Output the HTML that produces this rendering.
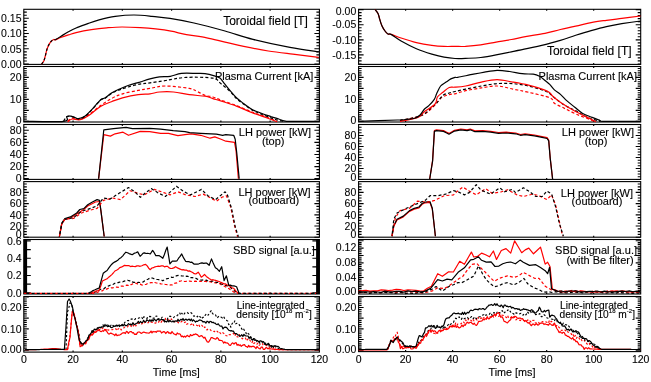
<!DOCTYPE html>
<html><head><meta charset="utf-8"><style>html,body{margin:0;padding:0;background:#fff;width:651px;height:382px;overflow:hidden}svg{display:block;will-change:transform;transform:translateZ(0)} text{stroke:#000;stroke-width:0.12px} text.t{stroke-width:0.08px}</style></head>
<body><svg width="651" height="382" viewBox="0 0 651 382">
<rect width="651" height="382" fill="#fff"/>
<path d="M23.80 64.00h3.00M319.40 64.00h-3.00M23.80 60.95h3.00M319.40 60.95h-3.00M23.80 57.90h3.00M319.40 57.90h-3.00M23.80 54.85h3.00M319.40 54.85h-3.00M23.80 51.80h3.00M319.40 51.80h-3.00M23.80 48.75h3.00M319.40 48.75h-3.00M23.80 45.70h3.00M319.40 45.70h-3.00M23.80 42.65h3.00M319.40 42.65h-3.00M23.80 39.60h3.00M319.40 39.60h-3.00M23.80 36.55h3.00M319.40 36.55h-3.00M23.80 33.50h3.00M319.40 33.50h-3.00M23.80 30.45h3.00M319.40 30.45h-3.00M23.80 27.40h3.00M319.40 27.40h-3.00M23.80 24.35h3.00M319.40 24.35h-3.00M23.80 21.30h3.00M319.40 21.30h-3.00M23.80 18.25h3.00M319.40 18.25h-3.00M23.80 15.20h3.00M319.40 15.20h-3.00M23.80 12.15h3.00M319.40 12.15h-3.00M23.80 64.00h5.00M319.40 64.00h-5.00M23.80 48.75h5.00M319.40 48.75h-5.00M23.80 33.50h5.00M319.40 33.50h-5.00M23.80 18.25h5.00M319.40 18.25h-5.00M73.07 9.30v1.5M73.07 64.40v-1.5M122.33 9.30v1.5M122.33 64.40v-1.5M171.60 9.30v1.5M171.60 64.40v-1.5M220.87 9.30v1.5M220.87 64.40v-1.5M270.13 9.30v1.5M270.13 64.40v-1.5" stroke="#000" stroke-width="1.15" fill="none"/>
<rect x="23.80" y="9.30" width="295.60" height="55.10" fill="none" stroke="#000" stroke-width="1.1"/>
<text class="t" x="21.50" y="67.75" text-anchor="end" font-family="Liberation Sans" font-size="10.5">0.00</text>
<text class="t" x="21.50" y="52.50" text-anchor="end" font-family="Liberation Sans" font-size="10.5">0.05</text>
<text class="t" x="21.50" y="37.25" text-anchor="end" font-family="Liberation Sans" font-size="10.5">0.10</text>
<text class="t" x="21.50" y="22.00" text-anchor="end" font-family="Liberation Sans" font-size="10.5">0.15</text>
<path d="M23.80 121.30h3.00M319.40 121.30h-3.00M23.80 119.10h3.00M319.40 119.10h-3.00M23.80 116.90h3.00M319.40 116.90h-3.00M23.80 114.70h3.00M319.40 114.70h-3.00M23.80 112.50h3.00M319.40 112.50h-3.00M23.80 110.30h3.00M319.40 110.30h-3.00M23.80 108.10h3.00M319.40 108.10h-3.00M23.80 105.90h3.00M319.40 105.90h-3.00M23.80 103.70h3.00M319.40 103.70h-3.00M23.80 101.50h3.00M319.40 101.50h-3.00M23.80 99.30h3.00M319.40 99.30h-3.00M23.80 97.10h3.00M319.40 97.10h-3.00M23.80 94.90h3.00M319.40 94.90h-3.00M23.80 92.70h3.00M319.40 92.70h-3.00M23.80 90.50h3.00M319.40 90.50h-3.00M23.80 88.30h3.00M319.40 88.30h-3.00M23.80 86.10h3.00M319.40 86.10h-3.00M23.80 83.90h3.00M319.40 83.90h-3.00M23.80 81.70h3.00M319.40 81.70h-3.00M23.80 79.50h3.00M319.40 79.50h-3.00M23.80 77.30h3.00M319.40 77.30h-3.00M23.80 75.10h3.00M319.40 75.10h-3.00M23.80 72.90h3.00M319.40 72.90h-3.00M23.80 70.70h3.00M319.40 70.70h-3.00M23.80 68.50h3.00M319.40 68.50h-3.00M23.80 121.30h5.00M319.40 121.30h-5.00M23.80 110.30h5.00M319.40 110.30h-5.00M23.80 99.30h5.00M319.40 99.30h-5.00M23.80 88.30h5.00M319.40 88.30h-5.00M23.80 77.30h5.00M319.40 77.30h-5.00M73.07 66.50v1.5M73.07 122.00v-1.5M122.33 66.50v1.5M122.33 122.00v-1.5M171.60 66.50v1.5M171.60 122.00v-1.5M220.87 66.50v1.5M220.87 122.00v-1.5M270.13 66.50v1.5M270.13 122.00v-1.5" stroke="#000" stroke-width="1.15" fill="none"/>
<rect x="23.80" y="66.50" width="295.60" height="55.50" fill="none" stroke="#000" stroke-width="1.1"/>
<text class="t" x="21.50" y="123.55" text-anchor="end" font-family="Liberation Sans" font-size="10.5">0</text>
<text class="t" x="21.50" y="103.05" text-anchor="end" font-family="Liberation Sans" font-size="10.5">10</text>
<text class="t" x="21.50" y="81.05" text-anchor="end" font-family="Liberation Sans" font-size="10.5">20</text>
<path d="M23.80 178.65h3.00M319.40 178.65h-3.00M23.80 175.62h3.00M319.40 175.62h-3.00M23.80 172.60h3.00M319.40 172.60h-3.00M23.80 169.58h3.00M319.40 169.58h-3.00M23.80 166.55h3.00M319.40 166.55h-3.00M23.80 163.53h3.00M319.40 163.53h-3.00M23.80 160.50h3.00M319.40 160.50h-3.00M23.80 157.47h3.00M319.40 157.47h-3.00M23.80 154.45h3.00M319.40 154.45h-3.00M23.80 151.43h3.00M319.40 151.43h-3.00M23.80 148.40h3.00M319.40 148.40h-3.00M23.80 145.38h3.00M319.40 145.38h-3.00M23.80 142.35h3.00M319.40 142.35h-3.00M23.80 139.33h3.00M319.40 139.33h-3.00M23.80 136.30h3.00M319.40 136.30h-3.00M23.80 133.28h3.00M319.40 133.28h-3.00M23.80 130.25h3.00M319.40 130.25h-3.00M23.80 127.23h3.00M319.40 127.23h-3.00M23.80 178.65h5.00M319.40 178.65h-5.00M23.80 166.55h5.00M319.40 166.55h-5.00M23.80 154.45h5.00M319.40 154.45h-5.00M23.80 142.35h5.00M319.40 142.35h-5.00M23.80 130.25h5.00M319.40 130.25h-5.00M73.07 124.50v1.5M73.07 179.40v-1.5M122.33 124.50v1.5M122.33 179.40v-1.5M171.60 124.50v1.5M171.60 179.40v-1.5M220.87 124.50v1.5M220.87 179.40v-1.5M270.13 124.50v1.5M270.13 179.40v-1.5" stroke="#000" stroke-width="1.15" fill="none"/>
<rect x="23.80" y="124.50" width="295.60" height="54.90" fill="none" stroke="#000" stroke-width="1.1"/>
<text class="t" x="21.50" y="181.60" text-anchor="end" font-family="Liberation Sans" font-size="10.5">0</text>
<text class="t" x="21.50" y="170.30" text-anchor="end" font-family="Liberation Sans" font-size="10.5">20</text>
<text class="t" x="21.50" y="158.20" text-anchor="end" font-family="Liberation Sans" font-size="10.5">40</text>
<text class="t" x="21.50" y="146.10" text-anchor="end" font-family="Liberation Sans" font-size="10.5">60</text>
<text class="t" x="21.50" y="134.00" text-anchor="end" font-family="Liberation Sans" font-size="10.5">80</text>
<path d="M23.80 237.20h3.00M319.40 237.20h-3.00M23.80 234.40h3.00M319.40 234.40h-3.00M23.80 231.60h3.00M319.40 231.60h-3.00M23.80 228.80h3.00M319.40 228.80h-3.00M23.80 226.00h3.00M319.40 226.00h-3.00M23.80 223.20h3.00M319.40 223.20h-3.00M23.80 220.40h3.00M319.40 220.40h-3.00M23.80 217.60h3.00M319.40 217.60h-3.00M23.80 214.80h3.00M319.40 214.80h-3.00M23.80 212.00h3.00M319.40 212.00h-3.00M23.80 209.20h3.00M319.40 209.20h-3.00M23.80 206.40h3.00M319.40 206.40h-3.00M23.80 203.60h3.00M319.40 203.60h-3.00M23.80 200.80h3.00M319.40 200.80h-3.00M23.80 198.00h3.00M319.40 198.00h-3.00M23.80 195.20h3.00M319.40 195.20h-3.00M23.80 192.40h3.00M319.40 192.40h-3.00M23.80 189.60h3.00M319.40 189.60h-3.00M23.80 186.80h3.00M319.40 186.80h-3.00M23.80 184.00h3.00M319.40 184.00h-3.00M23.80 237.20h5.00M319.40 237.20h-5.00M23.80 226.00h5.00M319.40 226.00h-5.00M23.80 214.80h5.00M319.40 214.80h-5.00M23.80 203.60h5.00M319.40 203.60h-5.00M23.80 192.40h5.00M319.40 192.40h-5.00M73.07 181.60v1.5M73.07 237.20v-1.5M122.33 181.60v1.5M122.33 237.20v-1.5M171.60 181.60v1.5M171.60 237.20v-1.5M220.87 181.60v1.5M220.87 237.20v-1.5M270.13 181.60v1.5M270.13 237.20v-1.5" stroke="#000" stroke-width="1.15" fill="none"/>
<rect x="23.80" y="181.60" width="295.60" height="55.60" fill="none" stroke="#000" stroke-width="1.1"/>
<text class="t" x="21.50" y="238.45" text-anchor="end" font-family="Liberation Sans" font-size="10.5">0</text>
<text class="t" x="21.50" y="229.75" text-anchor="end" font-family="Liberation Sans" font-size="10.5">20</text>
<text class="t" x="21.50" y="218.55" text-anchor="end" font-family="Liberation Sans" font-size="10.5">40</text>
<text class="t" x="21.50" y="207.35" text-anchor="end" font-family="Liberation Sans" font-size="10.5">60</text>
<text class="t" x="21.50" y="196.15" text-anchor="end" font-family="Liberation Sans" font-size="10.5">80</text>
<rect x="23.80" y="239.50" width="3.30" height="54.50" fill="#000"/>
<rect x="316.10" y="239.50" width="3.30" height="54.50" fill="#000"/>
<path d="M23.80 292.80h7.00M319.40 292.80h-7.00M23.80 284.15h7.00M319.40 284.15h-7.00M23.80 275.50h7.00M319.40 275.50h-7.00M23.80 266.85h7.00M319.40 266.85h-7.00M23.80 258.20h7.00M319.40 258.20h-7.00M23.80 249.55h7.00M319.40 249.55h-7.00M23.80 240.90h7.00M319.40 240.90h-7.00M73.07 239.50v1.5M73.07 294.00v-1.5M122.33 239.50v1.5M122.33 294.00v-1.5M171.60 239.50v1.5M171.60 294.00v-1.5M220.87 239.50v1.5M220.87 294.00v-1.5M270.13 239.50v1.5M270.13 294.00v-1.5" stroke="#000" stroke-width="1.15" fill="none"/>
<rect x="23.80" y="239.50" width="295.60" height="54.50" fill="none" stroke="#000" stroke-width="1.1"/>
<text class="t" x="21.50" y="296.55" text-anchor="end" font-family="Liberation Sans" font-size="10.5">0.0</text>
<text class="t" x="21.50" y="279.25" text-anchor="end" font-family="Liberation Sans" font-size="10.5">0.2</text>
<text class="t" x="21.50" y="261.95" text-anchor="end" font-family="Liberation Sans" font-size="10.5">0.4</text>
<text class="t" x="21.50" y="244.65" text-anchor="end" font-family="Liberation Sans" font-size="10.5">0.6</text>
<path d="M23.80 350.20h3.00M319.40 350.20h-3.00M23.80 348.06h3.00M319.40 348.06h-3.00M23.80 345.93h3.00M319.40 345.93h-3.00M23.80 343.80h3.00M319.40 343.80h-3.00M23.80 341.66h3.00M319.40 341.66h-3.00M23.80 339.52h3.00M319.40 339.52h-3.00M23.80 337.39h3.00M319.40 337.39h-3.00M23.80 335.25h3.00M319.40 335.25h-3.00M23.80 333.12h3.00M319.40 333.12h-3.00M23.80 330.99h3.00M319.40 330.99h-3.00M23.80 328.85h3.00M319.40 328.85h-3.00M23.80 326.71h3.00M319.40 326.71h-3.00M23.80 324.58h3.00M319.40 324.58h-3.00M23.80 322.44h3.00M319.40 322.44h-3.00M23.80 320.31h3.00M319.40 320.31h-3.00M23.80 318.18h3.00M319.40 318.18h-3.00M23.80 316.04h3.00M319.40 316.04h-3.00M23.80 313.90h3.00M319.40 313.90h-3.00M23.80 311.77h3.00M319.40 311.77h-3.00M23.80 309.63h3.00M319.40 309.63h-3.00M23.80 307.50h3.00M319.40 307.50h-3.00M23.80 305.37h3.00M319.40 305.37h-3.00M23.80 303.23h3.00M319.40 303.23h-3.00M23.80 301.09h3.00M319.40 301.09h-3.00M23.80 298.96h3.00M319.40 298.96h-3.00M23.80 296.82h3.00M319.40 296.82h-3.00M23.80 350.20h5.00M319.40 350.20h-5.00M23.80 339.52h5.00M319.40 339.52h-5.00M23.80 328.85h5.00M319.40 328.85h-5.00M23.80 318.17h5.00M319.40 318.17h-5.00M23.80 307.50h5.00M319.40 307.50h-5.00M23.80 296.82h5.00M319.40 296.82h-5.00M73.07 296.50v1.5M73.07 352.10v-1.5M122.33 296.50v1.5M122.33 352.10v-1.5M171.60 296.50v1.5M171.60 352.10v-1.5M220.87 296.50v1.5M220.87 352.10v-1.5M270.13 296.50v1.5M270.13 352.10v-1.5" stroke="#000" stroke-width="1.15" fill="none"/>
<rect x="23.80" y="296.50" width="295.60" height="55.60" fill="none" stroke="#000" stroke-width="1.1"/>
<text class="t" x="21.50" y="353.45" text-anchor="end" font-family="Liberation Sans" font-size="10.5">0.00</text>
<text class="t" x="21.50" y="332.60" text-anchor="end" font-family="Liberation Sans" font-size="10.5">0.10</text>
<text class="t" x="21.50" y="311.25" text-anchor="end" font-family="Liberation Sans" font-size="10.5">0.20</text>
<path d="M358.60 63.96h3.00M640.70 63.96h-3.00M358.60 60.94h3.00M640.70 60.94h-3.00M358.60 57.92h3.00M640.70 57.92h-3.00M358.60 54.90h3.00M640.70 54.90h-3.00M358.60 51.88h3.00M640.70 51.88h-3.00M358.60 48.86h3.00M640.70 48.86h-3.00M358.60 45.84h3.00M640.70 45.84h-3.00M358.60 42.82h3.00M640.70 42.82h-3.00M358.60 39.80h3.00M640.70 39.80h-3.00M358.60 36.78h3.00M640.70 36.78h-3.00M358.60 33.76h3.00M640.70 33.76h-3.00M358.60 30.74h3.00M640.70 30.74h-3.00M358.60 27.72h3.00M640.70 27.72h-3.00M358.60 24.70h3.00M640.70 24.70h-3.00M358.60 21.68h3.00M640.70 21.68h-3.00M358.60 18.66h3.00M640.70 18.66h-3.00M358.60 15.64h3.00M640.70 15.64h-3.00M358.60 12.62h3.00M640.70 12.62h-3.00M358.60 9.60h3.00M640.70 9.60h-3.00M358.60 54.90h5.00M640.70 54.90h-5.00M358.60 39.80h5.00M640.70 39.80h-5.00M358.60 24.70h5.00M640.70 24.70h-5.00M358.60 9.60h5.00M640.70 9.60h-5.00M405.62 9.30v1.5M405.62 64.40v-1.5M452.63 9.30v1.5M452.63 64.40v-1.5M499.65 9.30v1.5M499.65 64.40v-1.5M546.67 9.30v1.5M546.67 64.40v-1.5M593.68 9.30v1.5M593.68 64.40v-1.5" stroke="#000" stroke-width="1.15" fill="none"/>
<rect x="358.60" y="9.30" width="282.10" height="55.10" fill="none" stroke="#000" stroke-width="1.1"/>
<text class="t" x="356.30" y="14.65" text-anchor="end" font-family="Liberation Sans" font-size="10.5">0.00</text>
<text class="t" x="356.30" y="28.45" text-anchor="end" font-family="Liberation Sans" font-size="10.5">-0.05</text>
<text class="t" x="356.30" y="43.55" text-anchor="end" font-family="Liberation Sans" font-size="10.5">-0.10</text>
<text class="t" x="356.30" y="58.65" text-anchor="end" font-family="Liberation Sans" font-size="10.5">-0.15</text>
<path d="M358.60 121.30h3.00M640.70 121.30h-3.00M358.60 119.10h3.00M640.70 119.10h-3.00M358.60 116.90h3.00M640.70 116.90h-3.00M358.60 114.70h3.00M640.70 114.70h-3.00M358.60 112.50h3.00M640.70 112.50h-3.00M358.60 110.30h3.00M640.70 110.30h-3.00M358.60 108.10h3.00M640.70 108.10h-3.00M358.60 105.90h3.00M640.70 105.90h-3.00M358.60 103.70h3.00M640.70 103.70h-3.00M358.60 101.50h3.00M640.70 101.50h-3.00M358.60 99.30h3.00M640.70 99.30h-3.00M358.60 97.10h3.00M640.70 97.10h-3.00M358.60 94.90h3.00M640.70 94.90h-3.00M358.60 92.70h3.00M640.70 92.70h-3.00M358.60 90.50h3.00M640.70 90.50h-3.00M358.60 88.30h3.00M640.70 88.30h-3.00M358.60 86.10h3.00M640.70 86.10h-3.00M358.60 83.90h3.00M640.70 83.90h-3.00M358.60 81.70h3.00M640.70 81.70h-3.00M358.60 79.50h3.00M640.70 79.50h-3.00M358.60 77.30h3.00M640.70 77.30h-3.00M358.60 75.10h3.00M640.70 75.10h-3.00M358.60 72.90h3.00M640.70 72.90h-3.00M358.60 70.70h3.00M640.70 70.70h-3.00M358.60 68.50h3.00M640.70 68.50h-3.00M358.60 121.30h5.00M640.70 121.30h-5.00M358.60 110.30h5.00M640.70 110.30h-5.00M358.60 99.30h5.00M640.70 99.30h-5.00M358.60 88.30h5.00M640.70 88.30h-5.00M358.60 77.30h5.00M640.70 77.30h-5.00M405.62 66.50v1.5M405.62 122.00v-1.5M452.63 66.50v1.5M452.63 122.00v-1.5M499.65 66.50v1.5M499.65 122.00v-1.5M546.67 66.50v1.5M546.67 122.00v-1.5M593.68 66.50v1.5M593.68 122.00v-1.5" stroke="#000" stroke-width="1.15" fill="none"/>
<rect x="358.60" y="66.50" width="282.10" height="55.50" fill="none" stroke="#000" stroke-width="1.1"/>
<text class="t" x="356.30" y="123.55" text-anchor="end" font-family="Liberation Sans" font-size="10.5">0</text>
<text class="t" x="356.30" y="103.05" text-anchor="end" font-family="Liberation Sans" font-size="10.5">10</text>
<text class="t" x="356.30" y="81.05" text-anchor="end" font-family="Liberation Sans" font-size="10.5">20</text>
<path d="M358.60 179.50h3.00M640.70 179.50h-3.00M358.60 176.75h3.00M640.70 176.75h-3.00M358.60 174.00h3.00M640.70 174.00h-3.00M358.60 171.25h3.00M640.70 171.25h-3.00M358.60 168.50h3.00M640.70 168.50h-3.00M358.60 165.75h3.00M640.70 165.75h-3.00M358.60 163.00h3.00M640.70 163.00h-3.00M358.60 160.25h3.00M640.70 160.25h-3.00M358.60 157.50h3.00M640.70 157.50h-3.00M358.60 154.75h3.00M640.70 154.75h-3.00M358.60 152.00h3.00M640.70 152.00h-3.00M358.60 149.25h3.00M640.70 149.25h-3.00M358.60 146.50h3.00M640.70 146.50h-3.00M358.60 143.75h3.00M640.70 143.75h-3.00M358.60 141.00h3.00M640.70 141.00h-3.00M358.60 138.25h3.00M640.70 138.25h-3.00M358.60 135.50h3.00M640.70 135.50h-3.00M358.60 132.75h3.00M640.70 132.75h-3.00M358.60 130.00h3.00M640.70 130.00h-3.00M358.60 127.25h3.00M640.70 127.25h-3.00M358.60 124.50h3.00M640.70 124.50h-3.00M358.60 179.50h5.00M640.70 179.50h-5.00M358.60 168.50h5.00M640.70 168.50h-5.00M358.60 157.50h5.00M640.70 157.50h-5.00M358.60 146.50h5.00M640.70 146.50h-5.00M358.60 135.50h5.00M640.70 135.50h-5.00M358.60 124.50h5.00M640.70 124.50h-5.00M405.62 124.50v1.5M405.62 179.40v-1.5M452.63 124.50v1.5M452.63 179.40v-1.5M499.65 124.50v1.5M499.65 179.40v-1.5M546.67 124.50v1.5M546.67 179.40v-1.5M593.68 124.50v1.5M593.68 179.40v-1.5" stroke="#000" stroke-width="1.15" fill="none"/>
<rect x="358.60" y="124.50" width="282.10" height="54.90" fill="none" stroke="#000" stroke-width="1.1"/>
<text class="t" x="356.30" y="180.75" text-anchor="end" font-family="Liberation Sans" font-size="10.5">0</text>
<text class="t" x="356.30" y="172.25" text-anchor="end" font-family="Liberation Sans" font-size="10.5">20</text>
<text class="t" x="356.30" y="161.25" text-anchor="end" font-family="Liberation Sans" font-size="10.5">40</text>
<text class="t" x="356.30" y="150.25" text-anchor="end" font-family="Liberation Sans" font-size="10.5">60</text>
<text class="t" x="356.30" y="139.25" text-anchor="end" font-family="Liberation Sans" font-size="10.5">80</text>
<path d="M358.60 237.20h3.00M640.70 237.20h-3.00M358.60 234.40h3.00M640.70 234.40h-3.00M358.60 231.60h3.00M640.70 231.60h-3.00M358.60 228.80h3.00M640.70 228.80h-3.00M358.60 226.00h3.00M640.70 226.00h-3.00M358.60 223.20h3.00M640.70 223.20h-3.00M358.60 220.40h3.00M640.70 220.40h-3.00M358.60 217.60h3.00M640.70 217.60h-3.00M358.60 214.80h3.00M640.70 214.80h-3.00M358.60 212.00h3.00M640.70 212.00h-3.00M358.60 209.20h3.00M640.70 209.20h-3.00M358.60 206.40h3.00M640.70 206.40h-3.00M358.60 203.60h3.00M640.70 203.60h-3.00M358.60 200.80h3.00M640.70 200.80h-3.00M358.60 198.00h3.00M640.70 198.00h-3.00M358.60 195.20h3.00M640.70 195.20h-3.00M358.60 192.40h3.00M640.70 192.40h-3.00M358.60 189.60h3.00M640.70 189.60h-3.00M358.60 186.80h3.00M640.70 186.80h-3.00M358.60 184.00h3.00M640.70 184.00h-3.00M358.60 237.20h5.00M640.70 237.20h-5.00M358.60 226.00h5.00M640.70 226.00h-5.00M358.60 214.80h5.00M640.70 214.80h-5.00M358.60 203.60h5.00M640.70 203.60h-5.00M358.60 192.40h5.00M640.70 192.40h-5.00M405.62 181.60v1.5M405.62 237.20v-1.5M452.63 181.60v1.5M452.63 237.20v-1.5M499.65 181.60v1.5M499.65 237.20v-1.5M546.67 181.60v1.5M546.67 237.20v-1.5M593.68 181.60v1.5M593.68 237.20v-1.5" stroke="#000" stroke-width="1.15" fill="none"/>
<rect x="358.60" y="181.60" width="282.10" height="55.60" fill="none" stroke="#000" stroke-width="1.1"/>
<text class="t" x="356.30" y="238.45" text-anchor="end" font-family="Liberation Sans" font-size="10.5">0</text>
<text class="t" x="356.30" y="229.75" text-anchor="end" font-family="Liberation Sans" font-size="10.5">20</text>
<text class="t" x="356.30" y="218.55" text-anchor="end" font-family="Liberation Sans" font-size="10.5">40</text>
<text class="t" x="356.30" y="207.35" text-anchor="end" font-family="Liberation Sans" font-size="10.5">60</text>
<text class="t" x="356.30" y="196.15" text-anchor="end" font-family="Liberation Sans" font-size="10.5">80</text>
<path d="M358.60 292.20h3.00M640.70 292.20h-3.00M358.60 290.36h3.00M640.70 290.36h-3.00M358.60 288.52h3.00M640.70 288.52h-3.00M358.60 286.69h3.00M640.70 286.69h-3.00M358.60 284.85h3.00M640.70 284.85h-3.00M358.60 283.01h3.00M640.70 283.01h-3.00M358.60 281.18h3.00M640.70 281.18h-3.00M358.60 279.34h3.00M640.70 279.34h-3.00M358.60 277.50h3.00M640.70 277.50h-3.00M358.60 275.66h3.00M640.70 275.66h-3.00M358.60 273.82h3.00M640.70 273.82h-3.00M358.60 271.99h3.00M640.70 271.99h-3.00M358.60 270.15h3.00M640.70 270.15h-3.00M358.60 268.31h3.00M640.70 268.31h-3.00M358.60 266.47h3.00M640.70 266.47h-3.00M358.60 264.64h3.00M640.70 264.64h-3.00M358.60 262.80h3.00M640.70 262.80h-3.00M358.60 260.96h3.00M640.70 260.96h-3.00M358.60 259.12h3.00M640.70 259.12h-3.00M358.60 257.29h3.00M640.70 257.29h-3.00M358.60 255.45h3.00M640.70 255.45h-3.00M358.60 253.61h3.00M640.70 253.61h-3.00M358.60 251.77h3.00M640.70 251.77h-3.00M358.60 249.94h3.00M640.70 249.94h-3.00M358.60 248.10h3.00M640.70 248.10h-3.00M358.60 246.26h3.00M640.70 246.26h-3.00M358.60 244.42h3.00M640.70 244.42h-3.00M358.60 242.59h3.00M640.70 242.59h-3.00M358.60 240.75h3.00M640.70 240.75h-3.00M358.60 292.20h5.00M640.70 292.20h-5.00M358.60 284.85h5.00M640.70 284.85h-5.00M358.60 277.50h5.00M640.70 277.50h-5.00M358.60 270.15h5.00M640.70 270.15h-5.00M358.60 262.80h5.00M640.70 262.80h-5.00M358.60 255.45h5.00M640.70 255.45h-5.00M358.60 248.10h5.00M640.70 248.10h-5.00M358.60 240.75h5.00M640.70 240.75h-5.00M405.62 239.50v1.5M405.62 294.00v-1.5M452.63 239.50v1.5M452.63 294.00v-1.5M499.65 239.50v1.5M499.65 294.00v-1.5M546.67 239.50v1.5M546.67 294.00v-1.5M593.68 239.50v1.5M593.68 294.00v-1.5" stroke="#000" stroke-width="1.15" fill="none"/>
<rect x="358.60" y="239.50" width="282.10" height="54.50" fill="none" stroke="#000" stroke-width="1.1"/>
<text class="t" x="356.30" y="294.95" text-anchor="end" font-family="Liberation Sans" font-size="10.5">0.00</text>
<text class="t" x="356.30" y="280.65" text-anchor="end" font-family="Liberation Sans" font-size="10.5">0.04</text>
<text class="t" x="356.30" y="265.95" text-anchor="end" font-family="Liberation Sans" font-size="10.5">0.08</text>
<text class="t" x="356.30" y="251.25" text-anchor="end" font-family="Liberation Sans" font-size="10.5">0.12</text>
<path d="M358.60 350.20h3.00M640.70 350.20h-3.00M358.60 348.06h3.00M640.70 348.06h-3.00M358.60 345.93h3.00M640.70 345.93h-3.00M358.60 343.80h3.00M640.70 343.80h-3.00M358.60 341.66h3.00M640.70 341.66h-3.00M358.60 339.52h3.00M640.70 339.52h-3.00M358.60 337.39h3.00M640.70 337.39h-3.00M358.60 335.25h3.00M640.70 335.25h-3.00M358.60 333.12h3.00M640.70 333.12h-3.00M358.60 330.99h3.00M640.70 330.99h-3.00M358.60 328.85h3.00M640.70 328.85h-3.00M358.60 326.71h3.00M640.70 326.71h-3.00M358.60 324.58h3.00M640.70 324.58h-3.00M358.60 322.44h3.00M640.70 322.44h-3.00M358.60 320.31h3.00M640.70 320.31h-3.00M358.60 318.18h3.00M640.70 318.18h-3.00M358.60 316.04h3.00M640.70 316.04h-3.00M358.60 313.90h3.00M640.70 313.90h-3.00M358.60 311.77h3.00M640.70 311.77h-3.00M358.60 309.63h3.00M640.70 309.63h-3.00M358.60 307.50h3.00M640.70 307.50h-3.00M358.60 305.37h3.00M640.70 305.37h-3.00M358.60 303.23h3.00M640.70 303.23h-3.00M358.60 301.09h3.00M640.70 301.09h-3.00M358.60 298.96h3.00M640.70 298.96h-3.00M358.60 296.82h3.00M640.70 296.82h-3.00M358.60 350.20h5.00M640.70 350.20h-5.00M358.60 339.52h5.00M640.70 339.52h-5.00M358.60 328.85h5.00M640.70 328.85h-5.00M358.60 318.17h5.00M640.70 318.17h-5.00M358.60 307.50h5.00M640.70 307.50h-5.00M358.60 296.82h5.00M640.70 296.82h-5.00M405.62 296.50v1.5M405.62 351.60v-1.5M452.63 296.50v1.5M452.63 351.60v-1.5M499.65 296.50v1.5M499.65 351.60v-1.5M546.67 296.50v1.5M546.67 351.60v-1.5M593.68 296.50v1.5M593.68 351.60v-1.5" stroke="#000" stroke-width="1.15" fill="none"/>
<rect x="358.60" y="296.50" width="282.10" height="55.10" fill="none" stroke="#000" stroke-width="1.1"/>
<text class="t" x="356.30" y="353.45" text-anchor="end" font-family="Liberation Sans" font-size="10.5">0.00</text>
<text class="t" x="356.30" y="332.60" text-anchor="end" font-family="Liberation Sans" font-size="10.5">0.10</text>
<text class="t" x="356.30" y="311.25" text-anchor="end" font-family="Liberation Sans" font-size="10.5">0.20</text>
<text x="23.80" y="362.80" text-anchor="middle" font-family="Liberation Sans" font-size="10.5">0</text>
<text x="73.07" y="362.80" text-anchor="middle" font-family="Liberation Sans" font-size="10.5">20</text>
<text x="122.33" y="362.80" text-anchor="middle" font-family="Liberation Sans" font-size="10.5">40</text>
<text x="171.60" y="362.80" text-anchor="middle" font-family="Liberation Sans" font-size="10.5">60</text>
<text x="220.87" y="362.80" text-anchor="middle" font-family="Liberation Sans" font-size="10.5">80</text>
<text x="270.13" y="362.80" text-anchor="middle" font-family="Liberation Sans" font-size="10.5">100</text>
<text x="319.40" y="362.80" text-anchor="middle" font-family="Liberation Sans" font-size="10.5">120</text>
<text x="176.30" y="375.80" text-anchor="middle" font-family="Liberation Sans" font-size="10.8">Time [ms]</text>
<text x="358.60" y="362.80" text-anchor="middle" font-family="Liberation Sans" font-size="10.5">0</text>
<text x="405.62" y="362.80" text-anchor="middle" font-family="Liberation Sans" font-size="10.5">20</text>
<text x="452.63" y="362.80" text-anchor="middle" font-family="Liberation Sans" font-size="10.5">40</text>
<text x="499.65" y="362.80" text-anchor="middle" font-family="Liberation Sans" font-size="10.5">60</text>
<text x="546.67" y="362.80" text-anchor="middle" font-family="Liberation Sans" font-size="10.5">80</text>
<text x="593.68" y="362.80" text-anchor="middle" font-family="Liberation Sans" font-size="10.5">100</text>
<text x="640.70" y="362.80" text-anchor="middle" font-family="Liberation Sans" font-size="10.5">120</text>
<text x="512.00" y="375.80" text-anchor="middle" font-family="Liberation Sans" font-size="10.8">Time [ms]</text>
<text x="307.90" y="25.00" text-anchor="end" font-family="Liberation Sans" font-size="12">Toroidal field [T]</text>
<text x="313.30" y="79.60" text-anchor="end" font-family="Liberation Sans" font-size="11">Plasma Current [kA]</text>
<text x="311.00" y="136.10" text-anchor="end" font-family="Liberation Sans" font-size="11">LH power [kW]</text>
<text x="273.20" y="145.30" text-anchor="middle" font-family="Liberation Sans" font-size="11">(top)</text>
<text x="310.60" y="196.20" text-anchor="end" font-family="Liberation Sans" font-size="11">LH power [kW]</text>
<text x="273.80" y="204.20" text-anchor="middle" font-family="Liberation Sans" font-size="11">(outboard)</text>
<text x="314.90" y="253.80" text-anchor="end" font-family="Liberation Sans" font-size="11">SBD signal [a.u.]</text>
<text x="270.70" y="309.00" text-anchor="middle" font-family="Liberation Sans" font-size="10.2">Line-integrated</text>
<text x="311.80" y="317.60" text-anchor="end" font-family="Liberation Sans" font-size="10.2">density [10<tspan font-size="6" dy="-4.5">18</tspan><tspan dy="4.5"> m</tspan><tspan font-size="6" dy="-4.5">-2</tspan><tspan dy="4.5">]</tspan></text>
<text x="631.60" y="55.20" text-anchor="end" font-family="Liberation Sans" font-size="12">Toroidal field [T]</text>
<text x="637.00" y="79.50" text-anchor="end" font-family="Liberation Sans" font-size="11">Plasma Current [kA]</text>
<text x="634.00" y="136.20" text-anchor="end" font-family="Liberation Sans" font-size="11">LH power [kW]</text>
<text x="596.00" y="145.30" text-anchor="middle" font-family="Liberation Sans" font-size="11">(top)</text>
<text x="633.00" y="196.50" text-anchor="end" font-family="Liberation Sans" font-size="11">LH power [kW]</text>
<text x="597.00" y="204.50" text-anchor="middle" font-family="Liberation Sans" font-size="11">(outboard)</text>
<text x="637.00" y="253.80" text-anchor="end" font-family="Liberation Sans" font-size="11">SBD signal [a.u.]</text>
<text x="600.00" y="263.70" text-anchor="middle" font-family="Liberation Sans" font-size="11">(with Be filter)</text>
<text x="594.00" y="309.00" text-anchor="middle" font-family="Liberation Sans" font-size="10.2">Line-integrated</text>
<text x="635.00" y="317.60" text-anchor="end" font-family="Liberation Sans" font-size="10.2">density [10<tspan font-size="6" dy="-4.5">18</tspan><tspan dy="4.5"> m</tspan><tspan font-size="6" dy="-4.5">-2</tspan><tspan dy="4.5">]</tspan></text>
<path d="M41.5,64.2 C41.9,63.7 43.1,62.4 43.8,61.0 C44.4,59.6 44.9,57.5 45.4,55.6 C45.9,53.7 46.3,51.4 46.9,49.5 C47.5,47.6 48.4,45.5 49.2,44.1 C50.0,42.7 50.7,41.8 51.5,41.0 C52.3,40.2 53.2,39.7 53.8,39.5 C54.4,39.3 54.1,40.1 55.3,39.8 C56.4,39.5 58.5,38.3 60.7,37.5 C62.9,36.7 65.8,35.7 68.4,34.9 C71.0,34.1 72.3,33.5 76.1,32.6 C79.9,31.7 86.3,30.4 91.4,29.6 C96.5,28.8 101.7,28.2 106.8,27.8 C111.9,27.4 116.4,27.0 122.0,27.0 C127.6,27.0 134.8,27.3 140.4,27.6 C146.0,27.9 150.6,28.3 155.7,28.9 C160.8,29.5 166.0,30.2 171.1,31.2 C176.2,32.1 180.4,33.5 186.4,34.6 C192.4,35.7 200.4,36.5 206.8,37.8 C213.2,39.0 218.8,40.7 225.0,42.1 C231.2,43.5 236.5,44.8 243.7,46.3 C250.9,47.8 260.1,49.7 268.3,51.0 C276.5,52.3 284.4,53.1 292.8,54.1 C301.2,55.1 314.3,56.8 318.6,57.3" fill="none" stroke="#f00" stroke-width="1.2" stroke-linejoin="round"/>
<path d="M41.5,64.2 C41.9,63.7 43.1,62.4 43.8,61.0 C44.4,59.6 44.9,57.5 45.4,55.6 C45.9,53.7 46.3,51.4 46.9,49.5 C47.5,47.6 48.4,45.5 49.2,44.1 C50.0,42.7 50.7,41.8 51.5,41.0 C52.3,40.2 53.2,39.7 53.8,39.5 C54.4,39.3 55.0,39.8 55.3,39.8" fill="none" stroke="#000" stroke-width="1.2" stroke-linejoin="round" stroke-dasharray="2.6,2.2"/>
<path d="M55.3,39.8 C56.2,39.2 58.5,37.7 60.7,36.4 C62.9,35.1 65.8,33.2 68.4,31.8 C71.0,30.4 72.8,29.4 76.1,28.0 C79.4,26.6 84.6,24.8 88.4,23.4 C92.2,22.0 94.6,21.1 99.1,19.9 C103.6,18.7 109.4,17.2 115.2,16.4 C121.0,15.6 127.9,15.0 134.0,15.0 C140.1,15.0 146.0,15.7 152.0,16.3 C158.0,16.9 163.0,17.3 170.0,18.4 C177.0,19.5 184.8,20.9 194.0,23.0 C203.2,25.1 215.2,28.3 225.0,31.0 C234.8,33.7 242.2,36.6 253.0,39.3 C263.8,42.0 279.1,45.3 290.0,47.4 C300.9,49.5 313.8,51.0 318.6,51.7" fill="none" stroke="#000" stroke-width="1.2" stroke-linejoin="round"/>
<path d="M67.6,121.8 C68.4,121.3 70.2,119.3 72.3,119.0 C74.4,118.7 77.2,120.4 80.1,119.7 C83.0,119.0 86.1,117.2 89.5,115.0 C92.9,112.8 96.8,108.6 100.5,106.4 C104.2,104.2 107.8,103.1 111.5,101.7 C115.2,100.3 118.0,99.0 122.5,97.8 C127.0,96.6 133.6,95.2 138.2,94.6 C142.8,93.9 146.5,94.3 150.0,93.9 C153.5,93.5 155.5,92.3 159.4,92.0 C163.3,91.7 168.6,91.5 173.6,92.0 C178.6,92.5 184.1,94.0 189.3,94.7 C194.5,95.4 201.1,95.6 205.0,96.2 C208.9,96.8 210.3,97.8 212.9,98.6 C215.5,99.4 216.8,99.7 220.7,100.9 C224.6,102.2 231.2,104.1 236.4,106.1 C241.6,108.1 246.9,110.7 252.1,112.7 C257.3,114.7 263.6,116.7 267.8,118.2 C272.0,119.7 275.6,121.2 277.2,121.8" fill="none" stroke="#f00" stroke-width="1.2" stroke-linejoin="round"/>
<path d="M67.6,121.3 C68.4,120.8 70.2,118.5 72.3,118.2 C74.4,117.9 77.2,120.0 80.1,119.3 C83.0,118.6 86.1,116.5 89.5,114.2 C92.9,111.9 96.8,108.2 100.5,105.6 C104.2,103.0 107.8,100.5 111.5,98.5 C115.2,96.5 118.0,95.1 122.5,93.8 C127.0,92.5 133.6,91.3 138.2,90.4 C142.8,89.5 145.4,89.1 150.0,88.4 C154.6,87.7 159.1,86.0 165.7,86.0 C172.2,86.0 184.1,87.5 189.3,88.4 C194.6,89.3 194.6,90.3 197.2,91.5 C199.8,92.7 202.4,94.5 205.0,95.4 C207.6,96.3 210.3,96.2 212.9,97.0 C215.5,97.8 216.8,98.6 220.7,100.0 C224.6,101.4 231.2,103.5 236.4,105.5 C241.6,107.5 246.9,110.0 252.1,112.0 C257.3,114.0 263.7,116.0 267.8,117.5 C271.9,119.0 275.5,120.7 277.0,121.3" fill="none" stroke="#f00" stroke-width="1.2" stroke-linejoin="round" stroke-dasharray="3,2.2"/>
<path d="M63.6,121.3 C64.1,120.5 65.6,117.6 66.8,116.8 C68.0,116.0 69.4,116.2 70.7,116.3 C72.0,116.4 73.3,117.2 74.6,117.6 C75.9,118.0 76.8,119.0 78.5,118.8 C80.2,118.6 82.7,117.9 84.8,116.5 C86.9,115.1 89.0,112.7 91.1,110.5 C93.2,108.3 95.7,105.3 97.4,103.5 C99.1,101.7 100.0,100.5 101.3,99.6 C102.6,98.7 103.5,99.2 105.2,98.2 C106.9,97.2 109.1,94.9 111.5,93.5 C113.9,92.1 116.5,91.0 119.4,89.9 C122.3,88.8 125.4,87.8 128.8,86.8 C132.2,85.8 136.3,84.8 139.8,84.1 C143.3,83.4 145.7,83.5 150.0,82.9 C154.3,82.3 159.7,81.4 165.7,80.5 C171.7,79.6 178.3,77.8 186.2,77.4 C194.1,77.0 207.1,77.2 212.9,78.2 C218.7,79.2 217.9,81.4 220.8,83.6 C223.7,85.8 227.5,89.0 230.1,91.5 C232.7,94.0 234.1,96.3 236.4,98.5 C238.8,100.7 241.6,102.6 244.2,104.5 C246.8,106.4 249.5,108.5 252.1,110.0 C254.7,111.5 256.4,112.0 260.0,113.5 C263.6,115.0 270.1,117.7 274.0,119.0 C277.9,120.3 281.9,120.9 283.5,121.3" fill="none" stroke="#000" stroke-width="1.2" stroke-linejoin="round" stroke-dasharray="3,2.2"/>
<path d="M23.8,121.3 C30.4,121.3 56.4,122.1 63.6,121.3 C70.8,120.5 65.6,117.5 66.8,116.6 C68.0,115.7 69.4,116.0 70.7,116.1 C72.0,116.2 73.3,117.0 74.6,117.4 C75.9,117.8 76.8,118.8 78.5,118.6 C80.2,118.4 82.7,117.7 84.8,116.3 C86.9,114.9 89.0,112.5 91.1,110.3 C93.2,108.1 95.7,105.0 97.4,103.2 C99.1,101.4 100.0,100.2 101.3,99.3 C102.6,98.4 103.5,98.8 105.2,97.8 C106.9,96.8 109.1,94.5 111.5,93.0 C113.9,91.5 116.5,90.4 119.4,89.1 C122.3,87.8 125.4,86.4 128.8,85.2 C132.2,84.0 136.3,83.1 139.8,82.1 C143.3,81.0 146.7,79.8 150.0,78.9 C153.3,78.0 156.0,77.3 159.4,76.9 C162.8,76.5 166.7,76.9 170.4,76.3 C174.1,75.7 176.9,73.9 181.4,73.4 C185.9,72.9 193.3,73.4 197.2,73.4 C201.1,73.5 202.1,73.3 205.0,73.7 C207.9,74.1 211.9,75.1 214.4,75.8 C216.9,76.5 218.3,76.9 219.9,78.1 C221.5,79.3 222.1,80.7 223.8,82.8 C225.5,84.9 228.0,88.2 230.1,90.7 C232.2,93.2 234.1,95.6 236.4,97.8 C238.8,100.0 241.6,102.0 244.2,104.0 C246.8,106.0 249.5,108.0 252.1,109.5 C254.7,111.0 256.9,111.5 260.0,112.7 C263.1,113.9 267.8,115.5 270.9,116.6 C274.0,117.6 276.2,118.2 278.8,119.0 C281.4,119.8 279.8,120.9 286.6,121.3 C293.4,121.7 313.9,121.3 319.4,121.3" fill="none" stroke="#000" stroke-width="1.2" stroke-linejoin="round"/>
<path d="M98.6,178.7 103.8,134.6 110.4,136.1 115.1,133.8 123.0,132.2 128.5,135.3 140.2,131.4 149.7,131.7 160.6,133.3 168.5,133.3 177.9,135.7 185.0,134.6 191.3,133.8 200.7,135.3 210.1,138.2 214.8,136.9 221.1,139.3 225.8,141.2 234.5,142.4 236.0,150.3 238.4,178.7" fill="none" stroke="#f00" stroke-width="1.2" stroke-linejoin="round"/>
<path d="M98.6,178.7 103.8,129.8 113.5,128.6 126.1,127.3 132.4,128.6 149.7,128.3 160.6,129.1 173.2,130.6 185.0,131.7 189.7,132.7 200.7,133.3 216.4,134.2 222.7,135.3 225.8,134.6 233.7,135.3 235.2,139.3 236.8,153.4 239.2,178.7" fill="none" stroke="#000" stroke-width="1.2" stroke-linejoin="round"/>
<path d="M59.4,236.5 61.8,224.0 64.9,219.5 70.4,218.0 76.7,214.0 83.8,209.5 87.7,206.0 95.5,202.0 99.5,201.5 101.0,211.4 104.2,236.5" fill="none" stroke="#f00" stroke-width="1.2" stroke-linejoin="round"/>
<path d="M59.4,236.5 61.8,223.2 64.9,218.5 70.4,216.9 76.7,213.0 79.8,209.5 83.8,208.6 87.7,204.8 92.4,202.0 97.1,199.6 99.5,200.4 101.0,211.4 104.2,236.5" fill="none" stroke="#000" stroke-width="1.2" stroke-linejoin="round"/>
<path d="M59.4,236.5 61.8,223.5 64.9,219.0 73.5,218.5 81.4,213.0 90.8,210.0 97.1,208.3 103.4,200.4 112.8,198.0 120.6,199.6 130.1,190.7 137.9,193.3 144.2,194.9 154.4,189.4 163.8,192.6 170.1,194.9 178.0,191.8 185.8,194.9 195.2,196.5 203.1,194.1 209.4,197.3 216.4,201.2 221.9,197.3 226.4,195.7 230.6,206.7 234.5,225.5 237.6,236.8" fill="none" stroke="#f00" stroke-width="1.2" stroke-linejoin="round" stroke-dasharray="3,2.2"/>
<path d="M59.4,236.5 61.8,223.5 64.9,219.0 65.7,219.2 73.5,217.7 81.4,211.4 90.8,208.3 97.1,205.9 103.4,198.0 109.7,199.2 119.1,193.3 128.5,187.5 134.8,191.8 140.3,197.3 145.8,192.6 151.3,188.6 157.6,192.6 165.4,196.5 176.4,186.3 184.2,191.8 190.5,194.9 201.5,189.4 207.8,195.7 215.6,199.6 225.1,191.8 227.2,194.1 231.5,208.3 235.3,227.1 238.4,236.8" fill="none" stroke="#000" stroke-width="1.2" stroke-linejoin="round" stroke-dasharray="3,2.2" stroke-dashoffset="2.6"/>
<path d="M23.8,293.3 25.2,293.3 26.6,293.3 28.0,293.3 29.5,293.3 30.9,293.3 32.3,293.3 33.7,293.3 35.1,293.3 36.5,293.3 37.9,293.3 39.4,293.3 40.8,293.3 42.2,293.3 43.6,293.3 45.0,293.3 46.4,293.3 47.8,293.3 49.3,293.3 50.7,293.3 52.1,293.3 53.5,293.3 54.9,293.3 56.3,293.3 57.7,293.3 59.2,293.3 60.6,293.3 62.0,293.3 63.4,293.3 64.8,293.3 66.2,293.3 67.6,293.3 69.0,293.3 70.5,293.3 71.9,293.3 73.3,293.3 74.7,293.3 76.1,293.3 77.5,293.3 78.9,293.3 80.4,293.3 81.8,293.3 83.2,293.3 84.6,293.3 86.0,293.3 87.4,293.3 88.8,293.3 90.3,293.3 91.7,293.3 93.1,293.3 94.5,293.3 96.1,292.8 97.7,292.2 99.2,291.5 100.8,290.8 102.4,290.8 103.9,289.6 105.5,289.6 107.1,288.9 108.5,288.3 109.9,288.5 111.3,287.8 112.7,287.9 114.1,287.3 115.5,287.1 116.9,287.1 118.3,287.3 119.7,286.3 121.1,286.1 122.6,286.2 124.0,286.3 125.4,285.6 126.8,285.1 128.3,285.4 129.7,284.2 131.1,284.7 132.5,283.9 134.0,283.4 135.4,283.1 137.0,283.6 138.5,284.5 140.1,284.1 141.6,284.9 143.2,285.2 144.8,284.5 146.3,284.3 147.9,283.3 149.5,282.9 151.1,282.6 152.6,282.6 154.2,281.9 155.0,282.5 156.4,283.0 157.9,283.1 159.3,283.2 160.7,283.9 162.1,284.0 163.6,283.8 165.0,284.3 166.4,284.5 167.8,285.0 169.3,285.1 170.7,284.9 172.3,284.9 173.8,283.4 175.4,283.1 177.0,282.8 178.5,281.5 180.1,281.2 181.7,280.7 183.2,281.4 184.8,281.5 186.4,281.3 188.0,281.6 189.5,281.0 191.1,281.4 192.7,281.3 194.1,281.3 195.5,281.2 196.9,281.5 198.3,281.6 199.8,281.2 201.2,281.4 202.6,280.8 204.0,281.4 205.4,281.3 206.8,281.7 208.2,281.8 209.6,281.6 211.0,282.0 212.4,282.6 213.9,282.3 215.3,283.0 216.7,283.0 218.1,283.3 219.5,283.5 220.9,284.6 222.5,284.8 224.1,285.9 225.7,286.9 227.2,288.3 228.8,288.5 230.4,289.7 231.9,290.7 233.5,291.9 235.1,292.4 236.6,293.3 238.0,293.3 239.4,293.3 240.8,293.3 242.2,293.3 243.6,293.3 245.0,293.3 246.4,293.3 247.8,293.3 249.2,293.3 250.6,293.3 252.0,293.3 253.4,293.3 254.8,293.3 256.2,293.3 257.7,293.3 259.1,293.3 260.5,293.3 261.9,293.3 263.3,293.3 264.7,293.3 266.1,293.3 267.5,293.3 268.9,293.3 270.3,293.3 271.7,293.3 273.1,293.3 274.5,293.3 275.9,293.3 277.3,293.3 278.7,293.3 280.1,293.3 281.5,293.3 282.9,293.3 284.3,293.3 285.7,293.3 287.1,293.3 288.5,293.3 289.9,293.3 291.3,293.3 292.7,293.3 294.1,293.3 295.5,293.3 296.9,293.3 298.3,293.3 299.8,293.3 301.2,293.3 302.6,293.3 304.0,293.3 305.4,293.3 306.8,293.3 308.2,293.3 309.6,293.3 311.0,293.3 312.4,293.3 313.8,293.3 315.2,293.3 316.6,293.3 318.0,293.3 319.4,293.3" fill="none" stroke="#f00" stroke-width="1.2" stroke-linejoin="round" stroke-dasharray="3,2.2"/>
<path d="M23.8,293.3 25.2,293.3 26.6,293.3 28.0,293.3 29.4,293.3 30.8,293.3 32.2,293.3 33.7,293.3 35.1,293.3 36.5,293.3 37.9,293.3 39.3,293.3 40.7,293.3 42.1,293.3 43.5,293.3 44.9,293.3 46.3,293.3 47.7,293.3 49.2,293.3 50.6,293.3 52.0,293.3 53.4,293.3 54.8,293.3 56.2,293.3 57.6,293.3 59.0,293.3 60.4,293.3 61.8,293.3 63.2,293.3 64.6,293.3 66.1,293.3 67.5,293.3 68.9,293.3 70.3,293.3 71.7,293.3 73.1,293.3 74.5,293.3 75.9,293.3 77.3,293.3 78.7,293.3 80.1,293.3 81.5,293.3 83.0,293.3 84.4,293.3 85.8,293.3 87.2,293.3 88.6,293.3 90.0,293.3 91.4,293.3 93.0,292.7 94.6,292.3 96.1,291.8 97.7,290.5 99.3,290.0 100.8,289.3 102.4,289.2 104.0,288.7 105.6,287.2 107.1,286.5 108.7,285.9 110.2,285.2 111.8,284.8 113.3,284.3 114.9,283.3 116.5,282.6 118.1,282.6 119.6,282.1 121.2,281.9 122.8,281.8 124.3,281.1 125.9,280.5 127.5,280.2 129.1,280.8 130.7,280.6 132.2,281.9 133.8,282.3 135.4,282.5 136.9,282.6 138.5,282.3 140.0,282.5 141.6,282.3 143.2,282.0 144.7,280.7 146.3,279.9 147.9,279.2 149.4,278.4 151.0,277.7 153.0,278.3 155.0,279.1 156.6,279.4 158.1,279.5 159.7,279.9 161.2,279.8 162.8,280.8 164.2,280.0 165.6,279.1 167.1,278.7 168.5,278.4 169.9,277.9 171.3,277.2 172.7,277.5 174.2,277.1 175.6,276.1 177.0,275.7 178.6,275.4 180.1,275.6 181.7,275.9 183.3,276.0 184.8,276.7 186.4,276.2 188.0,276.4 189.5,277.7 191.1,277.7 192.7,277.7 194.2,278.5 195.8,278.3 197.4,279.1 198.9,279.8 200.5,280.0 202.1,280.1 203.6,279.9 205.2,280.3 206.6,280.2 208.0,281.0 209.4,281.0 210.8,281.4 212.2,281.1 213.6,281.2 215.0,282.0 216.4,282.3 217.8,282.4 219.4,283.0 220.9,283.7 222.5,284.3 224.1,284.4 225.7,285.4 227.2,285.9 228.8,286.2 230.4,287.3 231.9,288.7 233.5,289.8 235.1,291.3 236.6,292.2 238.2,293.3 239.6,293.3 241.0,293.3 242.5,293.3 243.9,293.3 245.3,293.3 246.7,293.3 248.2,293.3 249.6,293.3 251.0,293.3 252.4,293.3 253.9,293.3 255.3,293.3 256.7,293.3 258.1,293.3 259.6,293.3 261.0,293.3 262.4,293.3 263.8,293.3 265.3,293.3 266.7,293.3 268.1,293.3 269.5,293.3 271.0,293.3 272.4,293.3 273.8,293.3 275.2,293.3 276.7,293.3 278.1,293.3 279.5,293.3 280.9,293.3 282.4,293.3 283.8,293.3 285.2,293.3 286.6,293.3 288.1,293.3 289.5,293.3 290.9,293.3 292.3,293.3 293.8,293.3 295.2,293.3 296.6,293.3 298.0,293.3 299.5,293.3 300.9,293.3 302.3,293.3 303.7,293.3 305.2,293.3 306.6,293.3 308.0,293.3 309.4,293.3 310.9,293.3 312.3,293.3 313.7,293.3 315.1,293.3 316.6,293.3 318.0,293.3 319.4,293.3" fill="none" stroke="#000" stroke-width="1.2" stroke-linejoin="round" stroke-dasharray="3,2.2" stroke-dashoffset="2.6"/>
<path d="M89.8,293.3 91.4,292.7 92.9,292.1 94.5,292.0 96.1,290.9 97.6,290.8 99.2,290.3 100.8,286.0 102.4,281.1 104.0,280.2 105.5,279.5 107.1,278.8 108.7,277.2 110.2,276.0 111.8,274.6 113.3,273.0 114.9,271.0 116.5,270.2 118.1,269.3 119.7,267.6 121.2,267.2 122.8,266.4 124.4,265.3 126.0,265.6 127.5,265.6 129.1,265.7 130.6,266.6 132.2,266.1 133.8,266.5 135.3,266.6 136.9,265.9 138.5,265.9 140.1,266.3 141.9,265.7 143.8,264.8 145.6,264.3 147.2,265.9 148.7,268.2 150.3,269.7 151.9,268.0 153.4,267.7 155.0,266.8 156.6,266.5 158.2,266.2 159.7,266.3 161.3,265.9 162.9,265.8 164.4,266.8 166.0,266.4 167.6,266.3 169.1,267.9 170.7,268.5 172.3,268.4 173.8,267.9 175.4,266.7 177.0,267.6 178.5,268.4 180.1,269.1 181.7,269.8 183.2,269.7 184.8,270.1 186.4,270.1 187.9,271.1 189.5,270.9 191.1,271.7 192.7,272.6 194.2,273.7 195.8,274.0 198.2,272.2 199.8,274.5 201.3,277.2 202.9,276.1 204.5,274.4 206.3,276.4 208.1,277.7 209.9,279.1 211.5,280.1 213.1,279.7 214.6,280.2 216.2,280.6 217.8,281.1 219.3,281.5 220.9,282.4 222.5,283.1 224.0,283.9 225.6,283.9 227.2,285.1 228.8,285.6 230.3,286.4 231.9,287.7 233.5,288.2 235.1,290.0 236.6,291.9 238.2,293.3" fill="none" stroke="#f00" stroke-width="1.2" stroke-linejoin="round"/>
<path d="M88.3,293.3 89.9,292.4 91.4,291.7 93.0,290.6 94.5,290.0 96.1,289.3 97.7,288.6 99.2,288.0 101.2,280.6 103.2,273.3 105.2,271.7 107.1,270.5 108.7,268.2 110.2,266.2 111.8,264.2 113.4,262.7 114.9,261.9 116.5,261.1 118.1,259.9 119.6,258.4 121.2,257.4 122.8,255.8 124.3,253.9 125.9,252.2 127.5,252.7 129.1,253.6 130.6,254.1 132.2,254.7 134.0,253.4 135.9,252.8 137.7,251.9 140.1,256.3 141.6,254.9 143.2,253.2 144.6,252.9 146.0,253.5 147.5,253.3 148.9,253.5 150.3,254.0 152.6,250.4 154.2,252.7 155.8,255.6 157.4,255.6 158.9,255.5 160.9,256.8 162.8,258.3 164.3,254.8 165.7,250.6 167.2,247.1 169.9,263.9 172.3,261.2 173.9,261.2 175.4,261.1 177.0,260.8 178.6,258.2 180.1,256.4 181.7,253.9 183.6,257.9 185.6,261.3 187.2,261.6 188.8,261.6 190.3,262.3 191.9,262.2 194.2,264.2 195.8,264.1 197.4,264.1 198.9,263.8 200.5,263.2 202.1,262.9 203.7,263.4 205.2,263.1 206.8,263.2 209.2,265.3 211.5,258.9 213.4,263.6 215.4,267.8 217.4,269.1 219.4,271.3 221.7,266.7 224.1,280.6 226.4,275.8 228.8,285.3 230.4,285.1 231.9,285.9 233.5,285.9 235.1,286.2 236.6,286.7 239.0,293.3" fill="none" stroke="#000" stroke-width="1.2" stroke-linejoin="round"/>
<path d="M67.5,349.7 68.7,345.1 69.9,337.3 71.1,323.5 72.2,311.4 73.8,312.8 75.0,317.3 76.2,322.4 77.3,327.0 78.5,332.3 80.1,345.2 81.3,344.8 82.4,345.8 83.6,344.0 84.8,344.2 85.8,341.7 86.9,340.6 87.9,338.1 89.0,337.2 90.0,334.9 91.1,335.5 92.3,334.0 93.4,332.0 94.6,331.9 95.8,332.3 96.9,329.4 98.0,331.1 99.1,329.5 100.3,329.3 101.4,329.9 102.5,328.1 103.6,328.0 104.7,328.8 105.9,330.0 107.0,328.4 108.1,330.1 109.2,330.0 110.4,330.1 111.5,329.7 112.6,329.6 113.7,328.7 114.8,328.9 115.9,328.8 117.0,330.8 118.0,329.1 119.1,328.5 120.1,327.9 121.2,329.9 122.2,329.7 123.3,328.8 124.3,327.3 125.4,326.9 126.4,326.7 127.4,326.9 128.5,325.7 129.5,326.3 130.6,325.4 131.6,327.2 132.7,326.9 133.7,325.4 134.8,324.1 135.8,326.0 136.8,323.9 137.8,323.9 138.9,322.8 139.9,323.8 140.9,323.9 141.9,323.9 142.9,322.9 144.0,323.7 145.0,322.1 146.0,322.7 147.0,322.1 148.0,322.9 149.1,321.7 150.1,321.6 151.1,322.3 152.1,322.0 153.1,322.9 154.2,322.6 155.2,323.2 156.2,322.8 157.2,322.7 158.2,322.9 159.2,321.1 160.2,320.6 161.2,322.3 162.2,319.5 163.2,320.9 164.2,320.4 165.2,318.3 166.2,320.4 167.2,320.3 168.2,319.7 169.2,320.3 170.3,320.7 171.3,318.9 172.3,320.3 173.3,320.5 174.3,321.7 175.3,321.8 176.4,322.1 177.4,321.6 178.4,322.8 179.4,322.4 180.4,322.7 181.4,321.5 182.5,321.1 183.5,321.7 184.5,322.6 185.5,322.0 186.5,324.4 187.5,323.7 188.5,324.1 189.5,324.2 190.5,324.6 191.6,324.2 192.6,322.9 193.6,325.4 194.6,325.5 195.6,324.9 196.6,325.2 197.6,325.7 198.6,324.1 199.7,326.5 200.7,325.4 201.8,325.3 202.8,326.3 203.8,328.0 204.9,326.9 205.9,328.9 207.0,330.0 208.0,328.9 209.1,329.0 210.1,329.6 211.2,330.7 212.3,331.3 213.3,331.2 214.4,331.7 215.5,330.4 216.6,331.0 217.7,331.7 218.7,333.5 219.8,332.6 220.9,333.7 222.1,332.4 223.2,332.9 224.3,333.9 225.4,335.4 226.6,335.8 227.7,336.1 228.9,334.6 230.1,334.8 231.2,334.3 232.4,333.9 233.5,333.2 234.7,335.9 235.8,334.1 236.9,336.8 238.0,337.0 239.2,334.6 240.3,336.3 241.3,337.9 242.4,338.8 243.4,337.8 244.5,337.8 245.5,338.1 246.6,340.9 247.6,339.2 248.7,340.8 249.7,340.0 250.7,341.5 251.8,343.1 252.8,341.0 253.9,343.4 254.9,342.8 256.0,344.3 257.0,344.1 258.1,343.0 259.1,345.4 260.2,344.4 261.2,343.3 262.2,343.5 263.3,345.2 264.4,345.4 265.4,345.2 266.4,345.0 267.5,345.9 268.6,346.0 269.6,347.9 270.6,345.6 271.7,348.2 272.8,348.7 273.9,346.9 275.0,349.7 276.2,348.7 277.3,349.0 278.4,349.4 279.5,349.7 280.5,349.7 281.5,349.7 282.6,349.7 283.6,349.7 284.6,349.7 285.6,349.7 286.7,349.7 287.7,349.7 288.7,349.7 289.7,349.7 290.8,349.7 291.8,349.7 292.8,349.7 293.8,349.7 294.8,349.7 295.9,349.7 296.9,349.7 297.9,349.7 298.9,349.7 300.0,349.7 301.0,349.7 302.0,349.7 303.0,349.7 304.1,349.7 305.1,349.7 306.1,349.7 307.1,349.7 308.1,349.7 309.2,349.7 310.2,349.7 311.2,349.7 312.2,349.7 313.3,349.7 314.3,349.7 315.3,349.7 316.3,349.7 317.4,349.7 318.4,349.7 319.4,349.7" fill="none" stroke="#f00" stroke-width="1.15" stroke-linejoin="round" stroke-dasharray="2.2,2"/>
<path d="M66.0,349.7 67.5,311.9 68.7,308.6 69.9,302.8 71.0,304.3 72.0,305.7 73.2,312.5 74.5,316.3 75.5,319.6 76.5,323.8 77.5,327.3 78.7,333.1 79.8,339.8 80.9,343.5 82.0,343.4 83.0,345.0 84.0,342.6 85.0,342.3 86.0,341.4 87.0,338.7 88.0,337.6 89.0,337.7 90.0,335.8 91.0,333.9 92.0,332.4 93.0,332.2 94.0,331.3 95.0,329.6 96.0,329.7 97.0,327.1 98.0,328.7 99.0,327.4 100.0,327.9 101.0,327.3 102.0,325.9 103.0,324.8 104.0,327.1 105.0,324.4 106.0,325.5 107.0,325.2 108.0,325.1 109.0,326.5 110.0,327.2 111.0,325.2 112.0,326.4 113.0,325.4 114.0,326.4 115.0,326.2 116.0,325.8 117.0,326.0 118.0,325.6 119.1,327.2 120.1,325.4 121.2,324.1 122.2,325.6 123.3,325.3 124.3,323.2 125.4,321.7 126.4,321.3 127.5,320.5 128.5,320.7 129.6,319.5 130.6,319.4 131.7,318.9 132.7,319.3 133.7,320.1 134.7,319.6 135.8,318.5 136.8,318.4 137.8,318.6 138.8,318.0 139.8,317.8 140.9,316.9 141.9,317.4 142.9,319.4 143.9,316.7 144.9,317.7 146.0,318.0 147.0,318.6 148.0,316.5 149.0,316.6 150.0,316.4 151.1,316.7 152.1,316.8 153.1,318.2 154.1,318.1 155.1,318.3 156.1,316.0 157.1,316.2 158.1,318.5 159.1,319.2 160.1,318.2 161.1,318.7 162.1,317.2 163.1,318.6 164.1,320.4 165.1,319.8 166.2,319.5 167.2,319.6 168.3,317.1 169.3,316.4 170.4,316.2 171.4,317.0 172.5,317.1 173.5,317.6 174.6,316.6 175.6,316.1 176.7,316.1 177.7,314.9 178.8,314.9 179.8,313.0 180.8,315.1 181.9,313.2 182.9,315.1 184.0,314.1 185.0,312.9 186.1,312.2 187.1,312.4 188.2,313.4 189.2,313.4 190.4,312.4 191.6,313.1 192.7,315.3 193.9,316.2 195.0,315.9 196.2,315.6 197.3,316.9 198.4,315.4 199.5,316.5 200.7,317.2 201.8,318.9 202.8,317.3 203.9,317.4 204.9,315.6 206.0,314.3 207.0,313.7 208.1,315.2 209.1,313.8 210.2,312.0 211.2,310.6 212.2,312.8 213.2,314.1 214.2,314.1 215.3,314.4 216.3,316.4 217.3,318.0 218.3,316.7 219.4,316.1 220.4,317.0 221.4,317.3 222.5,318.0 223.6,316.6 224.6,318.4 225.6,319.7 226.7,320.4 227.7,321.0 228.7,324.7 229.8,324.2 230.8,327.2 231.8,324.2 232.8,323.0 233.8,323.5 234.8,320.9 235.8,323.8 236.9,323.3 237.9,323.3 238.9,324.3 240.0,325.8 241.0,327.5 242.1,329.5 243.2,328.3 244.3,330.2 245.3,330.8 246.4,334.3 247.5,333.0 248.6,333.9 249.7,335.1 250.8,336.8 251.9,338.9 253.0,339.6 254.2,339.8 255.3,341.2 256.4,341.7 257.5,340.6 258.6,340.5 259.6,343.1 260.7,342.9 261.7,341.1 262.8,343.3 263.8,342.8 264.9,343.1 265.9,343.4 267.0,343.2 268.1,343.1 269.2,344.3 270.3,345.0 271.4,347.2 272.4,345.1 273.5,348.0 274.6,346.1 275.7,347.0 276.8,348.8 277.9,349.2 279.0,348.2 280.2,348.6 281.3,348.8 282.4,349.1 283.5,349.3 284.7,349.5 285.8,349.7" fill="none" stroke="#000" stroke-width="1.15" stroke-linejoin="round" stroke-dasharray="2.2,2"/>
<path d="M25.0,349.7 26.0,349.7 27.0,349.7 28.0,349.7 29.0,349.6 30.0,349.6 31.0,349.6 32.0,349.6 33.0,349.6 34.0,349.6 35.0,349.6 36.0,349.6 37.0,349.5 38.0,349.5 39.0,349.5 40.0,349.5 41.0,349.4 42.0,349.4 43.0,349.3 44.0,349.2 45.0,349.2 46.0,349.1 47.0,349.0 48.0,349.0 49.0,348.9 50.0,348.8 51.0,348.8 52.0,348.7 53.0,348.6 54.0,348.6 55.0,348.5 56.0,348.6 57.0,348.8 58.0,348.9 59.0,349.1 60.0,349.2 61.0,349.4 62.0,349.5 63.1,349.5 64.2,349.6 65.3,349.6 66.4,349.7 67.5,349.7 68.7,342.7 69.9,337.9 71.1,324.3 72.2,312.4 73.8,312.8 75.0,318.1 76.2,324.4 77.3,327.1 78.5,333.0 80.1,346.6 81.3,346.1 82.4,343.8 83.6,343.4 84.8,343.1 85.8,343.7 86.9,340.4 87.9,340.1 89.0,339.0 90.0,335.9 91.1,334.2 92.3,335.2 93.4,333.6 94.6,331.9 95.8,332.3 96.9,331.0 98.0,330.7 99.1,329.7 100.3,331.5 101.4,331.6 102.5,330.7 103.6,331.3 104.7,329.4 105.9,330.5 107.0,331.7 108.1,333.5 109.2,334.1 110.4,333.1 111.5,333.4 112.6,334.0 113.7,334.3 114.8,335.6 115.9,333.8 117.0,335.6 118.0,335.2 119.1,335.1 120.1,334.7 121.2,334.1 122.2,333.1 123.3,332.8 124.3,332.7 125.4,333.5 126.4,331.4 127.4,331.8 128.4,333.3 129.4,332.0 130.4,331.6 131.4,331.6 132.4,333.0 133.4,332.5 134.4,334.3 135.4,334.1 136.4,334.4 137.4,332.6 138.4,332.0 139.5,332.0 140.5,332.9 141.6,333.4 142.6,332.6 143.7,332.0 144.7,332.4 145.8,332.8 146.8,332.9 147.8,333.0 148.9,333.2 149.9,332.6 151.0,331.1 152.0,332.9 153.1,331.4 154.1,332.0 155.2,331.5 156.2,332.3 157.3,331.0 158.3,331.1 159.4,331.2 160.4,331.0 161.5,333.0 162.5,332.2 163.6,331.6 164.6,331.9 165.7,333.5 166.7,332.3 167.8,331.6 168.8,333.1 169.9,332.8 170.9,333.7 172.0,331.5 173.0,332.8 174.1,334.0 175.1,334.4 176.2,334.9 177.2,332.9 178.2,333.9 179.3,333.8 180.3,334.3 181.4,336.7 182.4,336.0 183.5,337.2 184.5,336.1 185.5,337.2 186.5,336.0 187.5,335.3 188.5,336.5 189.5,336.8 190.5,334.5 191.5,335.6 192.5,335.5 193.5,334.4 194.5,334.6 195.5,333.9 196.5,334.4 197.6,334.9 198.6,336.1 199.7,336.6 200.7,335.8 201.8,335.7 202.8,336.8 203.9,338.1 204.9,337.2 206.1,339.9 207.3,341.9 208.6,342.1 209.9,340.2 211.2,337.6 212.4,337.7 213.5,338.4 214.7,338.8 215.8,339.1 217.0,337.6 218.1,338.4 219.2,340.4 220.3,340.3 221.4,340.5 222.5,341.0 223.7,343.2 224.8,341.9 225.9,343.0 227.0,342.9 228.2,343.5 229.3,345.1 230.5,345.3 231.7,343.5 232.8,342.9 234.0,344.1 235.0,343.0 236.1,342.7 237.1,345.3 238.2,344.3 239.2,345.6 240.3,344.8 241.3,346.3 242.4,345.4 243.4,344.9 244.5,344.7 245.5,346.2 246.6,346.6 247.6,347.4 248.7,345.4 249.7,346.9 250.8,346.4 251.8,346.9 252.8,346.1 253.9,346.6 254.9,347.3 256.0,348.5 257.0,346.5 258.1,347.6 259.1,348.5 260.2,349.0 261.2,347.1 262.3,347.1 263.3,349.3 264.4,349.5 265.4,348.3 266.5,347.3 267.5,348.6 268.6,348.7 269.6,348.8 270.7,348.9 271.7,349.0 272.8,349.1 273.9,349.2 275.0,349.3 276.2,349.4 277.3,349.5 278.4,349.6 279.5,349.7 280.5,349.7 281.5,349.7 282.6,349.7 283.6,349.7 284.6,349.7 285.6,349.7 286.7,349.7 287.7,349.7 288.7,349.7 289.7,349.7 290.8,349.7 291.8,349.7 292.8,349.7 293.8,349.7 294.8,349.7 295.9,349.7 296.9,349.7 297.9,349.7 298.9,349.7 300.0,349.7 301.0,349.7 302.0,349.7 303.0,349.7 304.1,349.7 305.1,349.7 306.1,349.7 307.1,349.7 308.1,349.7 309.2,349.7 310.2,349.7 311.2,349.7 312.2,349.7 313.3,349.7 314.3,349.7 315.3,349.7 316.3,349.7 317.4,349.7 318.4,349.7 319.4,349.7" fill="none" stroke="#f00" stroke-width="1.2" stroke-linejoin="round"/>
<path d="M25.1,349.7 26.1,349.7 27.1,349.7 28.1,349.7 29.1,349.7 30.1,349.6 31.1,349.6 32.2,349.6 33.2,349.6 34.2,349.6 35.2,349.6 36.2,349.6 37.2,349.6 38.2,349.6 39.2,349.6 40.2,349.5 41.2,349.5 42.2,349.5 43.2,349.5 44.2,349.5 45.3,349.5 46.3,349.5 47.3,349.5 48.3,349.5 49.3,349.5 50.3,349.4 51.3,349.4 52.3,349.4 53.3,349.4 54.3,349.4 55.3,349.4 56.3,349.4 57.3,349.4 58.4,349.4 59.4,349.4 60.4,349.3 61.4,349.3 62.4,349.3 63.4,349.3 64.4,349.3 66.0,326.5 67.5,301.5 69.1,299.0 70.3,301.0 71.5,304.2 72.7,308.0 73.8,315.1 74.9,317.9 75.9,322.6 77.0,327.9 78.2,334.9 79.3,340.3 80.5,341.9 81.7,343.9 82.7,344.0 83.8,343.4 84.8,342.5 85.8,341.0 86.9,340.4 87.9,339.0 89.0,335.0 90.0,334.5 91.1,333.2 92.1,330.5 93.2,331.8 94.2,329.1 95.4,329.8 96.6,329.1 97.7,328.7 98.9,327.3 100.0,327.3 101.0,327.5 102.1,326.8 103.1,327.1 104.2,326.3 105.2,326.0 106.3,325.1 107.4,326.7 108.5,326.5 109.7,326.0 110.8,327.5 111.9,327.6 113.0,326.9 114.0,326.0 115.0,326.5 116.0,325.4 117.0,325.2 118.0,325.9 119.1,324.9 120.2,325.6 121.2,325.7 122.2,324.3 123.3,325.8 124.3,324.2 125.4,325.7 126.4,325.7 127.5,324.9 128.5,323.6 129.6,324.6 130.7,324.0 131.8,325.2 132.9,322.7 134.0,324.3 135.1,324.3 136.1,323.3 137.2,323.2 138.3,321.3 139.4,323.1 140.5,321.5 141.5,322.6 142.6,322.4 143.6,320.3 144.7,321.8 145.7,322.1 146.8,319.7 147.8,320.4 148.9,321.3 149.9,319.7 151.0,321.5 152.0,319.7 153.1,321.0 154.1,319.2 155.2,320.0 156.2,321.0 157.3,319.2 158.3,319.5 159.4,320.2 160.4,319.9 161.5,319.2 162.5,319.7 163.6,319.8 164.6,321.9 165.7,321.3 166.7,322.0 167.8,320.2 168.8,321.9 169.9,320.3 170.9,321.5 172.0,321.9 173.0,320.9 174.0,322.0 175.0,321.0 176.0,320.8 177.0,321.4 178.0,319.2 179.0,321.3 180.0,320.1 181.0,319.3 182.0,320.1 183.0,318.5 184.0,320.5 185.1,319.6 186.1,319.1 187.2,320.3 188.2,319.6 189.2,319.1 190.3,320.7 191.3,319.0 192.4,321.1 193.4,319.8 194.5,320.9 195.5,322.0 196.5,321.1 197.6,321.4 198.6,320.6 199.7,319.9 200.7,320.2 201.8,320.6 202.8,321.9 203.8,321.6 204.9,321.9 205.9,323.1 207.0,321.2 208.0,321.6 209.0,322.9 210.0,321.4 211.0,321.5 212.0,322.6 213.1,322.2 214.1,323.2 215.2,323.1 216.2,324.3 217.2,324.6 218.3,323.8 219.5,325.7 220.7,326.1 221.8,326.1 223.0,328.9 224.2,327.3 225.3,327.2 226.5,327.3 227.7,328.9 228.9,330.3 230.1,330.8 231.2,330.6 232.4,331.1 233.4,331.0 234.5,333.2 235.6,333.6 236.6,333.6 237.6,334.9 238.7,335.0 239.8,336.3 240.8,335.9 241.8,334.7 242.9,336.5 243.9,334.3 245.0,335.7 246.0,335.9 247.1,336.0 248.1,336.0 249.1,338.4 250.2,336.9 251.2,338.8 252.3,340.2 253.5,338.5 254.6,338.9 255.7,340.4 256.8,340.4 258.0,341.1 259.1,341.9 260.2,340.7 261.4,341.5 262.5,341.9 263.6,341.7 264.7,344.3 265.9,344.5 267.0,344.8 268.1,343.3 269.2,345.8 270.3,345.9 271.5,345.5 272.6,346.5 273.7,346.1 274.8,345.9 275.9,345.9 277.0,346.6 278.1,346.4 279.3,347.5 280.4,349.0 281.5,348.7 282.6,349.0 283.8,349.2 285.0,349.4 286.2,349.5 287.4,349.7 288.4,349.7 289.4,349.7 290.4,349.7 291.4,349.7 292.4,349.7 293.4,349.7 294.4,349.7 295.4,349.7 296.4,349.7 297.4,349.7 298.4,349.7 299.4,349.7 300.4,349.7 301.4,349.7 302.4,349.7 303.4,349.7 304.4,349.7 305.4,349.7 306.4,349.7 307.4,349.7 308.4,349.7 309.4,349.7 310.4,349.7 311.4,349.7 312.4,349.7 313.4,349.7 314.4,349.7 315.4,349.7 316.4,349.7 317.4,349.7 318.4,349.7 319.4,349.7" fill="none" stroke="#000" stroke-width="1.2" stroke-linejoin="round"/>
<path d="M375.0,9.5 C375.5,10.2 377.2,11.8 378.0,13.4 C378.8,15.0 379.0,16.8 379.6,18.8 C380.2,20.9 381.0,23.7 381.9,25.7 C382.8,27.7 384.0,29.6 385.0,31.0 C386.0,32.4 387.0,33.5 388.0,34.1 C389.0,34.7 388.9,33.8 391.1,34.4 C393.3,35.0 396.9,36.6 401.1,38.0 C405.3,39.4 411.3,41.4 416.4,42.6 C421.5,43.8 427.2,44.7 431.8,45.3 C436.4,45.9 440.2,46.2 444.1,46.4 C448.0,46.6 451.4,46.4 455.0,46.4 C458.6,46.4 461.1,46.6 465.4,46.4 C469.7,46.1 475.6,45.6 480.7,44.9 C485.8,44.2 491.0,43.0 496.1,42.1 C501.2,41.2 506.3,40.5 511.4,39.5 C516.5,38.5 521.2,37.4 526.8,36.4 C532.4,35.4 539.4,34.4 545.0,33.3 C550.6,32.1 555.3,30.7 560.4,29.5 C565.5,28.3 570.6,27.2 575.7,26.1 C580.8,25.0 586.0,23.6 591.1,22.6 C596.2,21.6 601.3,21.0 606.4,20.3 C611.5,19.6 616.1,19.1 621.8,18.4 C627.5,17.7 637.4,16.4 640.5,16.0" fill="none" stroke="#f00" stroke-width="1.2" stroke-linejoin="round"/>
<path d="M375.0,9.5 C375.5,10.2 377.2,11.8 378.0,13.4 C378.8,15.0 379.0,16.8 379.6,18.8 C380.2,20.9 381.0,23.7 381.9,25.7 C382.8,27.7 384.0,29.6 385.0,31.0 C386.0,32.4 387.0,33.5 388.0,34.1 C389.0,34.7 388.9,33.2 391.1,34.4 C393.3,35.5 396.9,38.6 401.1,41.0 C405.3,43.4 411.3,46.5 416.4,48.7 C421.5,50.9 427.2,52.7 431.8,54.1 C436.4,55.5 440.2,56.5 444.1,57.2 C448.0,57.9 451.4,58.3 455.0,58.5 C458.6,58.7 461.1,58.6 465.4,58.4 C469.7,58.2 475.6,58.1 480.7,57.5 C485.8,56.9 491.0,55.9 496.1,54.9 C501.2,53.9 506.3,52.8 511.4,51.8 C516.5,50.8 521.2,49.9 526.8,48.7 C532.4,47.5 539.4,46.0 545.0,44.6 C550.6,43.2 555.3,41.8 560.4,40.3 C565.5,38.8 570.6,36.9 575.7,35.3 C580.8,33.7 586.0,32.1 591.1,30.7 C596.2,29.3 601.3,27.9 606.4,26.7 C611.5,25.5 616.1,24.6 621.8,23.7 C627.5,22.8 637.4,21.4 640.5,21.0" fill="none" stroke="#000" stroke-width="1.2" stroke-linejoin="round"/>
<path d="M400.0,120.8 C403.8,119.8 416.9,117.4 422.5,115.0 C428.1,112.6 430.4,109.3 433.5,106.4 C436.6,103.5 438.7,99.8 441.3,97.8 C443.9,95.8 446.9,95.3 449.2,94.6 C451.5,93.9 452.2,94.4 455.0,93.8 C457.8,93.2 461.3,91.7 465.7,90.7 C470.1,89.7 476.2,88.7 481.4,87.9 C486.6,87.1 491.9,85.8 497.1,86.0 C502.3,86.2 507.6,88.0 512.8,89.1 C518.0,90.1 522.3,90.8 528.5,92.3 C534.7,93.8 545.7,96.0 550.0,97.8 C554.3,99.6 552.1,101.5 554.4,103.2 C556.7,104.9 560.1,106.2 563.8,108.0 C567.5,109.8 571.9,112.2 576.4,114.2 C580.9,116.2 587.6,118.5 590.5,119.7 C593.4,120.9 593.4,121.0 594.0,121.3" fill="none" stroke="#f00" stroke-width="1.2" stroke-linejoin="round" stroke-dasharray="3,2.2"/>
<path d="M400.0,120.5 C403.5,119.7 415.8,117.8 420.9,115.8 C426.0,113.8 427.8,110.8 430.4,108.7 C433.0,106.6 434.5,105.4 436.6,103.2 C438.7,101.0 440.8,97.1 442.9,95.4 C445.0,93.7 447.2,93.7 449.2,93.0 C451.2,92.3 452.2,92.2 455.0,91.5 C457.8,90.8 461.3,90.0 465.7,89.1 C470.1,88.2 476.2,86.9 481.4,86.0 C486.6,85.1 491.9,84.0 497.1,83.6 C502.3,83.2 507.6,83.2 512.8,83.6 C518.0,84.0 523.3,84.8 528.5,86.0 C533.7,87.2 540.6,89.4 544.2,90.7 C547.8,92.0 548.3,92.6 550.0,93.8 C551.7,95.0 551.8,95.8 554.4,97.8 C557.0,99.8 561.7,103.4 565.4,105.6 C569.1,107.8 572.7,109.1 576.4,111.1 C580.1,113.1 583.7,115.8 587.4,117.4 C591.1,119.0 596.3,120.2 598.4,120.8 C600.5,121.4 599.7,121.2 600.0,121.3" fill="none" stroke="#000" stroke-width="1.2" stroke-linejoin="round" stroke-dasharray="3,2.2"/>
<path d="M400.0,121.3 C403.0,120.7 413.8,119.0 417.8,117.4 C421.8,115.8 421.2,114.1 424.1,111.9 C427.0,109.7 432.9,106.5 435.1,104.0 C437.3,101.5 436.1,99.0 437.4,97.0 C438.7,95.0 440.9,93.9 442.9,92.3 C444.9,90.7 447.2,88.3 449.2,87.5 C451.2,86.7 452.2,87.5 455.0,87.2 C457.8,87.0 461.3,86.8 465.7,86.0 C470.1,85.2 476.2,83.1 481.4,82.1 C486.6,81.0 491.9,79.7 497.1,79.7 C502.3,79.7 507.6,81.2 512.8,82.1 C518.0,83.0 523.3,83.9 528.5,85.2 C533.7,86.5 540.6,88.6 544.2,89.9 C547.8,91.2 548.6,92.0 550.0,93.0 C551.4,94.0 551.0,94.6 552.8,96.2 C554.6,97.8 557.3,100.2 560.7,102.5 C564.1,104.8 569.4,108.1 573.3,110.3 C577.2,112.5 580.8,114.1 584.2,115.8 C587.6,117.5 591.7,119.5 593.7,120.5 C595.7,121.5 595.6,121.6 596.0,121.8" fill="none" stroke="#f00" stroke-width="1.2" stroke-linejoin="round"/>
<path d="M358.6,121.3 C365.1,121.1 389.4,120.3 397.4,120.0 C405.4,119.7 403.9,119.6 406.8,119.3 C409.7,119.0 412.5,118.9 414.7,118.2 C416.9,117.5 418.5,116.5 420.1,115.0 C421.7,113.5 422.7,111.1 424.1,109.5 C425.6,107.9 427.1,107.3 428.8,105.6 C430.5,103.9 433.0,101.3 434.3,99.3 C435.6,97.3 435.6,96.0 436.6,93.8 C437.7,91.6 439.0,88.0 440.6,86.0 C442.2,84.0 444.4,83.3 446.1,82.1 C447.8,80.9 449.3,79.7 450.8,78.9 C452.3,78.1 453.8,77.6 455.0,77.3 C456.2,77.0 454.7,77.8 457.8,77.3 C460.9,76.8 469.1,75.0 473.5,74.2 C477.9,73.4 480.6,72.9 484.5,72.2 C488.4,71.5 492.9,70.4 497.1,70.3 C501.3,70.2 505.5,70.9 509.7,71.5 C513.9,72.1 518.3,73.2 522.2,73.7 C526.1,74.2 530.3,73.8 533.2,74.2 C536.1,74.6 537.5,75.2 539.5,76.2 C541.5,77.2 543.3,79.1 545.0,80.5 C546.7,81.9 548.1,82.8 549.7,84.4 C551.3,86.0 552.6,88.2 554.4,89.9 C556.2,91.6 558.6,92.8 560.7,94.6 C562.8,96.4 564.6,98.8 567.0,100.9 C569.4,103.0 572.2,105.1 574.8,107.2 C577.4,109.3 579.8,111.8 582.7,113.5 C585.6,115.2 589.2,116.2 592.1,117.4 C595.0,118.6 598.2,119.8 600.0,120.5 C601.8,121.2 596.3,121.2 603.1,121.3 C609.9,121.4 634.4,121.3 640.7,121.3" fill="none" stroke="#000" stroke-width="1.2" stroke-linejoin="round"/>
<path d="M429.7,179.0 432.6,160.4 434.4,130.6 436.5,129.8 443.5,130.6 446.7,132.2 449.0,133.4 454.5,130.3 460.8,129.0 467.1,129.8 470.2,129.0 474.9,130.9 482.8,130.6 490.6,131.4 498.5,132.5 506.3,132.2 515.7,133.0 520.4,134.5 525.1,133.8 534.5,135.0 540.8,136.4 547.1,137.7 548.7,140.0 550.2,158.1 552.6,179.0" fill="none" stroke="#f00" stroke-width="1.2" stroke-linejoin="round"/>
<path d="M429.7,179.0 432.6,161.2 434.4,131.4 436.5,130.6 443.5,131.4 446.7,133.0 449.0,134.2 454.5,131.1 460.8,129.8 467.1,130.6 470.2,129.8 474.9,131.7 482.8,131.4 490.6,132.2 498.5,133.3 506.3,133.0 515.7,133.8 520.4,135.3 525.1,134.6 534.5,135.8 540.8,137.2 547.1,138.5 548.7,140.8 550.2,158.1 552.6,179.0" fill="none" stroke="#000" stroke-width="1.2" stroke-linejoin="round"/>
<path d="M392.0,236.2 393.8,226.3 397.0,220.0 403.3,216.9 409.5,211.4 414.2,209.1 419.0,207.8 422.1,204.3 425.2,202.8 430.0,202.5 432.3,209.1 435.4,236.2" fill="none" stroke="#f00" stroke-width="1.2" stroke-linejoin="round"/>
<path d="M392.0,236.2 393.8,225.5 397.0,219.2 403.3,216.1 409.5,210.6 414.2,208.3 419.0,207.0 422.1,203.5 425.2,202.0 430.0,201.7 432.3,208.3 435.4,236.2" fill="none" stroke="#000" stroke-width="1.2" stroke-linejoin="round"/>
<path d="M392.0,236.2 395.4,217.7 400.1,210.6 409.5,208.3 417.4,201.2 428.4,202.0 434.7,200.4 444.1,195.7 453.5,194.9 456.6,191.8 462.9,187.1 469.2,191.0 476.3,194.9 485.7,188.6 492.0,193.3 501.4,191.8 507.7,189.7 517.1,194.9 523.4,196.5 532.8,194.1 539.1,195.7 546.9,199.6 551.6,194.9 555.6,205.1 559.5,222.4 562.6,236.2" fill="none" stroke="#f00" stroke-width="1.2" stroke-linejoin="round" stroke-dasharray="3,2.2"/>
<path d="M392.0,236.2 393.8,219.2 397.0,213.0 406.4,208.3 415.8,204.3 425.2,200.4 430.0,195.7 437.8,195.7 445.6,194.1 453.5,190.7 458.2,191.8 464.5,194.9 469.2,192.6 476.3,184.7 481.0,190.2 490.4,194.1 499.8,187.8 504.5,191.8 512.4,189.4 515.5,192.6 523.4,187.8 529.7,191.8 535.9,196.5 542.2,196.5 546.9,191.0 551.6,194.1 555.6,206.7 559.5,224.0 563.4,236.2" fill="none" stroke="#000" stroke-width="1.2" stroke-linejoin="round" stroke-dasharray="3,2.2" stroke-dashoffset="2.6"/>
<path d="M358.6,292.5 362.3,292.7 365.9,292.5 369.6,291.9 373.3,292.3 376.9,292.1 380.6,292.6 384.3,292.2 387.9,291.9 391.6,292.4 395.3,292.9 399.0,291.8 402.6,292.7 406.3,291.5 410.0,291.9 413.6,291.8 417.3,292.5 421.0,292.8 424.6,292.5 428.3,292.0 433.0,290.6 437.7,287.8 444.0,288.6 447.9,286.8 451.8,283.7 455.5,281.2 459.1,278.5 462.8,276.4 467.5,269.8 472.2,264.4 476.9,263.4 480.9,268.0 484.8,271.7 489.5,276.8 494.2,281.3 497.8,279.3 501.3,277.6 507.6,275.9 513.8,277.4 518.5,276.0 523.3,272.4 527.2,274.4 531.1,276.6 535.0,278.5 539.0,278.3 545.2,286.2 551.5,289.9 555.0,290.0 558.6,291.0 562.1,291.0 565.7,291.1 569.2,291.2 572.7,290.3 576.3,291.1 579.8,290.9 583.4,291.5 586.9,291.6 590.4,291.8 594.0,290.7 597.5,291.8 601.1,292.0 604.6,292.1 608.1,290.9 611.7,291.1 615.2,291.1 618.8,291.0 622.3,292.2 625.8,292.2 629.4,292.0 632.9,292.3 636.5,292.1 640.0,292.0" fill="none" stroke="#f00" stroke-width="1.2" stroke-linejoin="round" stroke-dasharray="3,2.2"/>
<path d="M358.6,292.7 362.2,292.4 365.8,292.4 369.4,293.4 373.0,292.6 376.6,292.7 380.2,292.9 383.8,292.3 387.4,292.7 391.1,292.7 394.7,293.3 398.3,292.8 401.9,292.7 405.5,293.6 409.1,293.0 412.7,293.5 416.3,293.2 419.9,292.3 423.5,292.9 427.7,290.8 431.9,289.2 436.1,286.5 442.4,290.9 446.1,288.6 449.7,286.0 453.4,284.8 457.6,282.7 461.7,282.7 465.9,280.7 469.9,278.2 473.8,276.1 478.5,265.9 482.4,273.6 486.3,279.7 490.2,283.5 494.2,286.7 498.7,285.8 503.1,283.6 507.6,282.7 513.8,284.9 518.9,282.4 524.0,278.5 528.0,284.1 534.2,287.9 537.9,289.1 541.5,291.1 545.2,292.2 548.7,291.7 552.2,292.5 555.7,291.7 559.2,292.7 562.8,292.6 566.3,292.8 569.8,292.6 573.3,292.2 576.8,292.3 580.3,292.3 583.8,293.1 587.3,292.0 590.8,293.1 594.4,292.0 597.9,292.2 601.4,292.3 604.9,293.3 608.4,292.7 611.9,292.6 615.4,293.3 618.9,292.4 622.4,292.8 626.0,292.9 629.5,293.3 633.0,293.3 636.5,293.2 640.0,293.0" fill="none" stroke="#000" stroke-width="1.2" stroke-linejoin="round" stroke-dasharray="3,2.2"/>
<path d="M358.6,290.8 362.4,290.6 366.1,290.3 369.9,291.2 373.7,290.8 377.4,290.8 381.2,289.9 384.9,290.2 388.7,290.5 392.5,290.1 396.2,289.4 400.0,289.7 403.9,290.5 407.9,289.8 411.8,290.0 415.7,290.3 419.6,290.9 423.5,291.1 427.4,288.2 431.4,286.2 437.7,273.7 442.4,276.3 448.7,271.8 453.4,272.0 459.7,261.3 464.4,264.3 469.1,256.0 471.4,252.1 473.8,257.0 477.7,256.3 481.6,253.1 485.6,254.7 489.5,256.8 493.4,251.0 496.5,259.5 501.3,250.5 506.0,248.6 510.7,253.1 514.6,240.9 518.2,246.8 521.7,252.7 525.2,249.9 528.8,248.1 533.5,253.8 537.0,250.5 540.5,247.1 545.2,264.1 547.6,262.2 550.0,266.5 552.3,289.1 557.8,291.3 561.4,291.7 564.9,292.0 568.5,291.3 572.1,291.5 575.7,291.7 579.2,291.3 582.8,291.0 586.4,291.7 590.0,291.9 593.5,291.8 597.1,291.7 600.7,291.9 604.3,291.7 607.8,291.6 611.4,291.3 615.0,291.1 618.6,291.6 622.1,290.8 625.7,291.3 629.3,291.8 632.9,291.7 636.4,291.6 640.0,291.4" fill="none" stroke="#f00" stroke-width="1.2" stroke-linejoin="round"/>
<path d="M358.6,291.7 362.4,291.8 366.1,291.8 369.9,292.0 373.7,291.7 377.4,292.0 381.2,292.3 384.9,291.2 388.7,291.8 392.5,291.9 396.2,291.3 400.0,291.4 403.9,292.1 407.9,290.9 411.8,291.7 415.7,291.2 419.6,291.8 423.5,291.7 427.1,290.1 430.6,288.4 434.5,283.6 437.7,279.7 442.4,281.0 447.1,279.1 451.8,279.8 458.1,272.3 464.4,267.8 470.6,259.9 473.8,259.3 478.5,256.8 481.6,260.3 486.3,262.1 491.1,261.9 495.0,266.5 498.9,266.1 502.8,263.7 506.8,262.5 510.7,262.0 515.4,263.8 520.1,260.1 523.3,262.2 529.5,265.4 535.8,264.7 540.5,267.6 545.2,270.7 547.6,273.7 549.6,267.3 551.5,288.8 557.8,291.4 561.4,291.0 564.9,291.8 568.5,291.2 572.1,291.0 575.7,290.9 579.2,291.8 582.8,291.8 586.4,291.6 590.0,291.4 593.5,291.5 597.1,291.0 600.7,292.0 604.3,291.2 607.8,291.6 611.4,291.8 615.0,291.8 618.6,291.4 622.1,291.1 625.7,291.5 629.3,290.9 632.9,291.9 636.4,291.2 640.0,291.4" fill="none" stroke="#000" stroke-width="1.2" stroke-linejoin="round"/>
<path d="M387.0,349.3 388.0,348.5 389.0,345.0 390.0,343.5 391.0,341.3 392.0,340.3 393.1,338.1 394.1,336.0 395.1,336.7 396.2,333.8 397.2,332.2 398.3,336.7 399.3,341.6 400.4,345.8 401.4,346.5 402.5,346.7 403.5,345.9 404.6,347.7 405.6,347.5 406.7,345.2 407.7,347.6 408.8,348.0 409.8,347.7 410.9,345.9 411.9,348.0 413.0,347.5 414.0,345.8 415.1,345.8 416.1,348.8 417.2,346.5 418.3,344.0 419.4,342.2 420.6,341.0 421.7,339.9 422.8,340.2 423.9,337.5 424.9,335.8 426.0,336.9 427.0,335.4 428.1,332.3 429.1,333.3 430.2,331.3 431.2,332.2 432.3,332.2 433.4,333.2 434.4,333.2 435.4,333.7 436.5,332.1 437.5,333.2 438.6,332.3 439.6,332.5 440.7,331.2 441.7,332.1 442.8,330.7 443.8,329.4 444.9,328.9 445.9,328.2 446.9,328.6 448.0,326.7 449.0,327.3 450.1,325.6 451.1,326.0 452.2,325.4 453.4,325.2 454.5,325.9 455.7,323.1 456.8,325.3 458.0,323.9 459.1,323.8 460.1,323.7 461.2,323.8 462.3,322.0 463.4,321.8 464.4,323.0 465.5,319.9 466.6,321.2 467.6,320.8 468.7,318.6 469.7,320.2 470.8,320.3 471.8,320.9 472.9,319.0 473.9,320.8 475.0,319.2 476.0,319.0 477.1,320.1 478.1,317.4 479.2,319.3 480.2,318.9 481.3,317.9 482.3,319.4 483.4,317.7 484.4,317.9 485.4,317.9 486.4,318.4 487.4,316.5 488.4,316.9 489.4,316.7 490.4,316.9 491.4,317.5 492.5,315.7 493.5,317.1 494.5,315.6 495.5,315.7 496.5,314.7 497.5,315.2 498.5,316.4 499.5,315.7 500.5,316.3 501.5,315.1 502.6,315.3 503.6,315.5 504.6,316.5 505.6,316.9 506.6,317.6 507.6,315.5 508.6,317.8 509.7,318.5 510.7,317.7 511.7,316.4 512.7,317.4 513.8,316.7 514.9,317.5 516.0,319.9 517.1,319.1 518.2,319.5 519.2,320.1 520.3,320.6 521.4,319.9 522.5,320.2 523.6,320.4 524.6,320.8 525.7,320.6 526.7,321.0 527.8,319.8 528.8,321.3 529.9,320.9 530.9,322.0 532.0,320.1 533.0,320.5 534.1,320.3 535.1,322.7 536.2,323.2 537.2,322.6 538.3,321.9 539.3,323.5 540.3,323.3 541.3,322.6 542.3,321.6 543.3,321.7 544.3,322.0 545.3,321.7 546.3,322.0 547.3,322.6 548.3,323.4 549.3,320.7 550.3,322.2 551.3,321.3 552.4,322.2 553.4,324.9 554.5,324.8 555.5,326.5 556.5,325.7 557.6,325.1 558.6,326.9 559.7,328.1 560.7,329.8 561.8,330.6 562.9,329.8 564.0,330.3 565.2,330.0 566.3,332.3 567.4,331.7 568.5,332.2 569.6,332.3 570.8,332.9 571.9,335.5 573.0,334.4 574.1,337.5 575.3,335.4 576.4,338.3 577.5,336.6 578.6,336.9 579.7,339.5 580.9,338.7 582.0,340.7 583.1,339.6 584.2,339.8 585.2,342.6 586.2,343.0 587.2,344.1 588.2,344.4 589.2,343.1 590.2,345.4 591.2,346.2 592.2,346.1 593.2,348.2 594.2,346.8 595.2,348.2 596.4,348.5 597.6,348.8 598.8,349.0 600.0,349.3" fill="none" stroke="#f00" stroke-width="1.15" stroke-linejoin="round" stroke-dasharray="2.2,2"/>
<path d="M387.0,349.3 388.0,348.7 389.0,346.1 390.0,342.0 391.0,340.0 392.0,341.5 393.1,341.5 394.1,338.7 395.1,338.9 396.2,339.7 397.2,337.5 398.3,340.6 399.3,340.5 400.4,340.2 401.6,342.2 402.8,344.0 403.9,344.7 405.1,346.5 406.1,345.0 407.1,347.0 408.1,345.8 409.1,346.7 410.1,346.7 411.1,346.1 412.1,346.0 413.1,347.3 414.1,347.8 415.1,347.4 416.1,346.8 417.2,344.4 418.3,342.1 419.4,343.3 420.6,340.9 421.7,339.7 422.8,336.7 423.9,335.9 425.0,336.0 426.0,334.5 427.1,332.8 428.1,330.8 429.2,330.2 430.2,330.5 431.3,327.9 432.3,327.8 433.4,326.5 434.4,327.6 435.5,327.5 436.5,326.1 437.6,325.4 438.6,326.4 439.7,327.0 440.7,327.7 441.8,328.6 442.8,329.0 443.8,325.8 444.9,327.6 445.9,326.9 447.0,326.5 448.0,325.0 449.1,323.5 450.1,324.6 451.2,323.8 452.2,322.9 453.4,322.6 454.5,319.9 455.7,318.2 456.8,318.6 458.0,318.4 459.1,316.8 460.2,318.7 461.3,319.4 462.4,317.5 463.4,318.6 464.4,318.7 465.4,318.0 466.4,317.2 467.4,317.3 468.4,318.7 469.4,318.8 470.5,317.7 471.5,316.5 472.5,318.6 473.5,318.5 474.5,316.8 475.5,317.8 476.5,318.7 477.6,318.4 478.6,317.0 479.6,316.7 480.7,316.7 481.8,315.3 482.8,315.0 483.9,314.7 484.9,316.0 486.0,314.8 487.0,315.1 488.1,314.4 489.1,314.5 490.1,313.2 491.1,312.7 492.1,315.5 493.1,313.4 494.1,312.5 495.1,313.9 496.1,314.2 497.1,312.2 498.1,313.4 499.1,312.5 500.1,312.9 501.2,311.0 502.4,310.7 503.5,313.3 504.6,312.6 505.7,311.1 506.9,311.0 508.0,309.8 509.1,311.8 510.2,311.2 511.3,313.2 512.4,313.2 513.5,313.8 514.5,314.7 515.6,313.1 516.7,312.9 517.8,313.8 518.9,314.2 519.9,313.7 521.0,313.3 522.0,314.6 523.1,315.2 524.1,313.7 525.2,314.9 526.2,314.6 527.3,311.8 528.4,313.1 529.4,312.2 530.5,311.1 531.5,313.4 532.5,311.6 533.6,312.9 534.6,313.4 535.7,314.7 536.7,314.2 537.8,313.7 538.8,314.2 539.8,313.6 540.9,316.4 541.9,316.8 543.0,314.8 544.0,314.6 545.0,315.5 546.1,316.1 547.1,318.0 548.2,318.2 549.2,318.3 550.3,316.1 551.3,318.9 552.3,319.2 553.3,319.5 554.3,321.1 555.4,318.8 556.4,319.6 557.4,322.0 558.4,323.0 559.4,322.8 560.4,322.2 561.4,323.6 562.4,324.6 563.4,323.2 564.5,324.4 565.5,324.7 566.5,324.8 567.5,326.4 568.5,326.0 569.5,327.0 570.6,327.5 571.6,329.9 572.7,328.7 573.7,331.6 574.8,330.8 575.8,331.1 576.9,334.5 577.9,333.2 579.0,336.1 580.0,336.7 581.1,337.5 582.1,336.1 583.2,337.8 584.2,337.5 585.2,340.6 586.2,341.0 587.2,341.0 588.2,341.1 589.2,341.4 590.2,343.5 591.2,343.2 592.2,344.2 593.2,343.4 594.2,344.3 595.2,344.5 596.4,347.1 597.5,347.4 598.7,346.8 599.8,348.6 601.0,349.3" fill="none" stroke="#000" stroke-width="1.15" stroke-linejoin="round" stroke-dasharray="2.2,2"/>
<path d="M358.6,349.9 359.6,349.9 360.6,349.9 361.6,349.9 362.7,349.9 363.7,349.9 364.7,349.9 365.7,349.9 366.7,349.9 367.7,349.9 368.7,349.9 369.8,349.9 370.8,349.9 371.8,349.9 372.8,349.9 373.8,349.8 374.8,349.8 375.8,349.8 376.9,349.8 377.9,349.8 378.9,349.8 379.9,349.8 380.9,349.8 381.9,349.8 382.9,349.8 384.0,349.8 385.0,349.8 386.0,349.8 387.0,349.8 388.0,348.8 389.0,345.3 390.0,343.7 391.0,341.1 392.0,340.7 393.1,341.5 394.1,339.6 395.1,338.5 396.2,338.6 397.2,337.5 398.3,342.2 399.3,343.3 400.4,348.6 401.6,346.4 402.8,348.8 403.9,348.4 405.1,347.4 406.1,348.1 407.1,347.5 408.1,347.4 409.1,347.1 410.1,347.5 411.1,349.0 412.1,349.0 413.1,348.7 414.1,346.5 415.1,346.9 416.1,348.4 417.2,344.9 418.3,345.3 419.4,342.8 420.6,343.3 421.7,339.4 422.8,340.1 423.9,337.6 424.9,335.7 426.0,334.1 427.0,334.9 428.1,332.8 429.1,330.6 430.2,329.9 431.2,331.6 432.3,330.2 433.4,331.5 434.4,330.8 435.4,331.3 436.5,333.2 437.5,332.7 438.6,331.0 439.6,330.3 440.7,330.0 441.7,331.0 442.8,330.4 443.8,329.4 444.9,328.9 445.9,329.6 446.9,329.4 447.9,329.2 448.9,328.2 450.0,326.8 451.0,326.0 452.0,327.2 453.0,326.0 454.1,326.9 455.2,325.3 456.3,327.4 457.5,326.2 458.6,327.7 459.7,327.8 460.8,327.0 461.9,325.1 463.1,326.7 464.2,324.9 465.3,325.3 466.4,323.0 467.6,322.2 468.7,323.2 469.8,322.4 470.9,322.3 472.0,323.3 473.2,324.3 474.3,323.2 475.4,325.0 476.5,325.3 477.6,323.9 478.6,321.3 479.7,321.3 480.8,321.2 481.9,321.0 483.0,319.2 484.2,319.9 485.3,318.7 486.4,319.3 487.5,317.2 488.5,318.8 489.5,318.6 490.5,317.0 491.5,316.6 492.5,316.2 493.5,315.8 494.5,314.1 495.5,316.1 496.5,313.7 497.5,313.2 498.5,312.6 499.6,314.4 500.8,317.3 501.9,316.7 503.0,318.4 504.1,321.4 505.3,321.6 506.4,322.5 507.4,322.9 508.5,321.7 509.6,320.4 510.6,319.7 511.7,316.9 512.7,317.8 513.8,317.7 514.9,316.2 516.0,316.7 517.1,318.0 518.2,318.4 519.2,318.1 520.3,318.0 521.4,319.0 522.5,318.6 523.6,320.1 524.7,321.5 525.9,320.3 527.0,322.1 528.1,323.2 529.2,322.4 530.4,324.8 531.5,325.7 532.5,324.2 533.6,324.2 534.6,325.2 535.7,324.3 536.7,323.9 537.8,325.2 538.8,324.7 539.9,323.5 540.9,323.1 541.9,323.2 543.0,323.2 544.0,324.5 545.0,323.8 546.2,324.5 547.4,324.6 548.5,325.1 549.7,323.4 550.9,324.4 552.0,325.4 553.2,325.1 554.4,323.1 555.6,325.8 556.8,328.5 557.9,330.0 559.1,332.6 560.1,331.6 561.2,332.8 562.2,333.3 563.3,332.3 564.4,332.8 565.4,335.2 566.5,335.4 567.5,336.5 568.5,336.3 569.6,337.5 570.7,338.3 571.7,339.0 572.8,337.6 573.8,339.9 574.9,339.7 575.9,341.6 577.0,341.3 578.0,342.8 579.0,344.7 580.1,344.8 581.1,344.8 582.1,346.4 583.2,347.1 584.2,349.4 585.3,347.8 586.5,347.9 587.6,348.9 588.7,347.7 589.8,348.8 591.0,348.9 592.1,349.0 593.2,349.0 594.4,349.1 595.5,349.1 596.6,349.2 597.7,349.2 598.9,349.3 600.0,349.3 601.0,349.3 602.0,349.3 603.1,349.3 604.1,349.3 605.1,349.3 606.1,349.3 607.1,349.3 608.1,349.3 609.2,349.3 610.2,349.4 611.2,349.4 612.2,349.4 613.2,349.4 614.2,349.4 615.3,349.4 616.3,349.4 617.3,349.4 618.3,349.4 619.3,349.4 620.4,349.4 621.4,349.4 622.4,349.4 623.4,349.4 624.4,349.4 625.4,349.4 626.5,349.4 627.5,349.4 628.5,349.4 629.5,349.4 630.5,349.4 631.5,349.5 632.6,349.5 633.6,349.5 634.6,349.5 635.6,349.5 636.6,349.5 637.6,349.5 638.7,349.5 639.7,349.5 640.7,349.5" fill="none" stroke="#f00" stroke-width="1.2" stroke-linejoin="round"/>
<path d="M358.6,349.5 359.6,349.5 360.6,349.5 361.6,349.5 362.7,349.5 363.7,349.5 364.7,349.5 365.7,349.4 366.7,349.4 367.7,349.4 368.7,349.4 369.8,349.4 370.8,349.4 371.8,349.4 372.8,349.4 373.8,349.4 374.8,349.4 375.8,349.4 376.9,349.4 377.9,349.4 378.9,349.4 379.9,349.4 380.9,349.3 381.9,349.3 382.9,349.3 384.0,349.3 385.0,349.3 386.0,349.3 387.0,349.3 388.0,347.5 389.0,346.4 390.0,343.2 391.0,340.5 392.1,341.7 393.3,342.5 394.6,340.0 395.9,338.5 397.2,337.0 398.3,338.5 399.3,339.8 400.4,340.5 401.6,341.6 402.8,342.4 403.9,344.7 405.1,346.7 406.3,346.3 407.5,346.4 408.6,346.8 409.8,345.8 410.9,347.1 411.9,346.5 413.0,346.7 414.0,346.9 415.1,346.5 416.1,346.1 417.1,342.3 418.2,338.5 419.2,335.6 420.3,335.8 421.3,336.9 422.4,335.9 423.4,333.9 424.5,332.3 425.5,327.8 426.7,327.9 427.9,326.9 429.0,325.6 430.2,326.7 431.2,325.3 432.3,326.9 433.4,325.7 434.4,325.9 435.4,328.4 436.5,327.6 437.6,326.5 438.6,327.2 439.6,327.2 440.7,327.9 441.8,326.1 442.8,326.3 444.0,324.6 445.1,320.5 446.1,318.4 447.1,318.3 448.1,317.7 449.1,318.0 450.4,316.2 451.7,315.3 453.0,313.6 454.1,312.9 455.1,313.6 456.1,313.6 457.2,313.7 458.2,313.1 459.3,313.9 460.4,313.8 461.4,314.4 462.5,312.4 463.5,314.4 464.6,312.2 465.6,314.3 466.6,313.2 467.7,312.3 468.7,312.9 469.7,311.2 470.8,310.1 471.8,310.4 472.9,310.6 473.9,309.8 474.9,309.2 476.0,309.3 477.1,309.3 478.1,309.9 479.1,308.7 480.2,308.9 481.2,309.2 482.3,308.7 483.3,308.5 484.4,309.6 485.6,309.0 486.8,307.3 487.9,306.4 489.1,305.0 490.2,305.1 491.4,304.4 492.5,305.3 493.6,305.1 494.7,303.6 495.9,305.5 497.0,303.7 498.0,305.5 499.1,305.9 500.1,306.6 501.1,305.0 502.2,306.0 503.2,307.7 504.2,305.2 505.3,305.2 506.4,306.4 507.4,306.1 508.4,307.0 509.5,306.5 510.6,306.4 511.6,308.1 512.6,307.4 513.7,307.9 514.8,308.9 515.8,308.6 516.9,308.6 518.0,309.4 519.1,308.9 520.3,310.5 521.4,309.9 522.5,309.7 523.6,308.7 524.7,309.4 525.9,309.4 527.0,309.9 528.1,309.9 529.2,310.7 530.4,310.9 531.5,309.7 532.7,310.3 533.9,311.6 535.0,313.3 536.2,312.4 537.2,311.3 538.3,310.5 539.3,307.2 540.3,308.6 541.3,311.3 542.3,311.9 543.3,312.0 544.4,310.4 545.5,311.8 546.6,310.6 547.7,310.4 548.8,310.2 549.7,317.0 550.9,315.8 552.0,315.1 553.2,315.5 554.4,316.0 555.5,317.8 556.5,318.9 557.6,320.7 558.8,322.6 560.0,323.3 561.1,323.4 562.3,325.9 563.5,326.1 564.6,325.8 565.8,327.9 567.0,330.0 568.2,329.2 569.4,330.6 570.5,329.2 571.7,330.4 572.8,331.9 573.8,331.4 574.9,331.7 575.9,330.6 577.0,331.6 578.0,331.8 579.0,332.7 580.1,335.2 581.1,336.5 582.3,338.5 583.5,338.1 584.6,338.5 585.8,338.5 586.8,339.3 587.9,341.5 589.0,340.5 590.0,341.1 591.0,342.0 592.1,343.6 593.3,345.3 594.5,345.7 595.6,347.2 596.8,346.3 598.0,346.6 599.1,348.4 600.3,348.8 601.5,349.3 602.5,349.3 603.5,349.3 604.5,349.3 605.5,349.3 606.5,349.3 607.5,349.3 608.5,349.3 609.5,349.3 610.5,349.3 611.6,349.4 612.6,349.4 613.6,349.4 614.6,349.4 615.6,349.4 616.6,349.4 617.6,349.4 618.6,349.4 619.6,349.4 620.6,349.4 621.6,349.4 622.6,349.4 623.6,349.4 624.6,349.4 625.6,349.4 626.6,349.4 627.6,349.4 628.6,349.4 629.6,349.4 630.6,349.4 631.7,349.5 632.7,349.5 633.7,349.5 634.7,349.5 635.7,349.5 636.7,349.5 637.7,349.5 638.7,349.5 639.7,349.5 640.7,349.5" fill="none" stroke="#000" stroke-width="1.2" stroke-linejoin="round"/>
</svg></body></html>
